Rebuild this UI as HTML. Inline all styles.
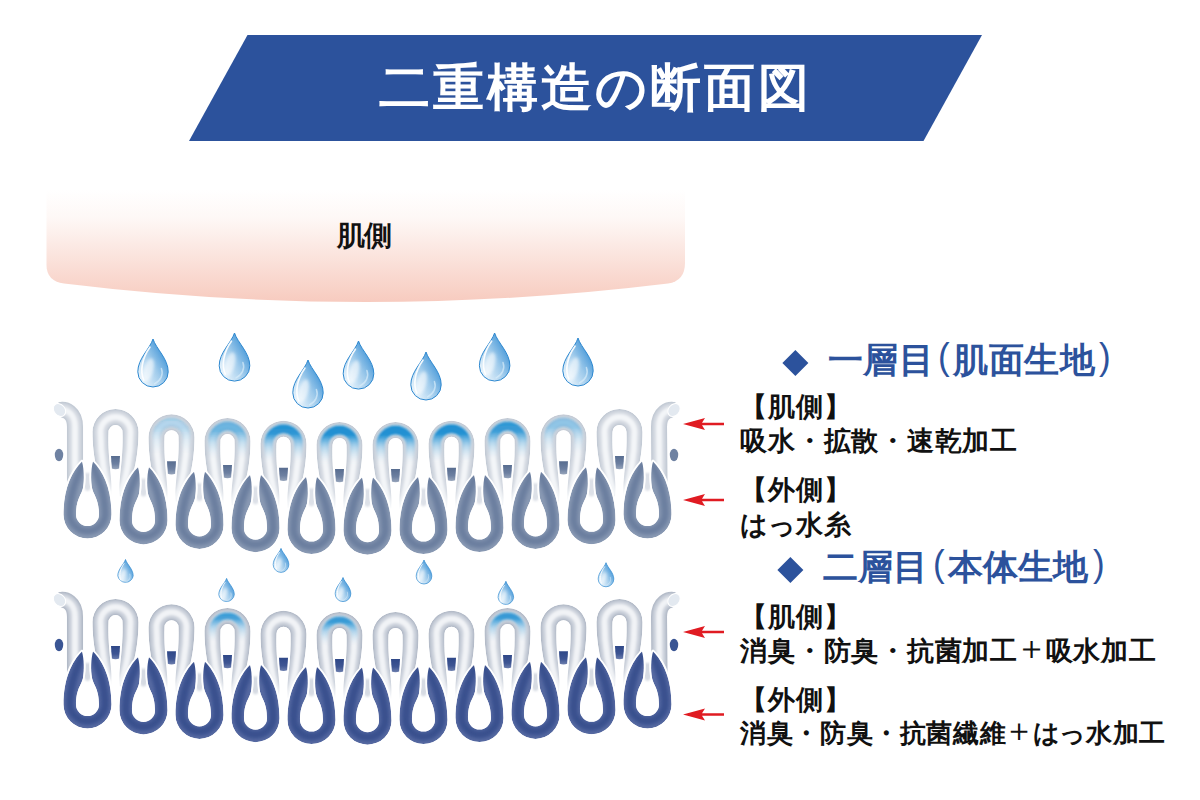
<!DOCTYPE html>
<html lang="ja"><head><meta charset="utf-8"><title>二重構造の断面図</title>
<style>
html,body{margin:0;padding:0;background:#fff;}
body{width:1200px;height:800px;position:relative;overflow:hidden;font-family:"Liberation Sans",sans-serif;}
.t{position:absolute;white-space:nowrap;line-height:1;}
.t span{display:inline-block;text-align:center;}
.title{left:377.5px;top:61.5px;font-size:51px;font-weight:bold;color:#fff;}
.skin{left:336.5px;top:221.5px;font-size:28px;font-weight:bold;color:#111;}
.h{font-size:35px;font-weight:bold;color:#2c529c;}
.h span{width:35.5px;}
.h.h2 span{width:35px;}
.title span{width:54.1px;}
.skin span{width:27.5px;}
.b span{width:27.75px;}
.b2 span{width:26.6px;}
.b{font-size:27px;color:#111;font-weight:bold;}
.b2{font-size:26px;color:#111;font-weight:bold;}
.h .p{font-weight:normal;transform:translateY(-4px) scaleY(1.05);}
.t span.pl{font-weight:normal;transform:translateY(-2.5px) scale(1.22);}
</style></head><body>
<svg width="1200" height="800" viewBox="0 0 1200 800" style="position:absolute;left:0;top:0"><defs><linearGradient id="skin" x1="0" y1="0" x2="0" y2="1"><stop offset="0" stop-color="#ffffff"/><stop offset="0.25" stop-color="#fef8f6"/><stop offset="1" stop-color="#f7cbbf"/></linearGradient><linearGradient id="dg" x1="0.15" y1="0.85" x2="0.95" y2="0.15"><stop offset="0" stop-color="#e3f1fb"/><stop offset="0.45" stop-color="#9ecaeb"/><stop offset="1" stop-color="#2b88d2"/></linearGradient><filter id="bl1" filterUnits="userSpaceOnUse" x="0" y="0" width="1200" height="800"><feGaussianBlur stdDeviation="0.7"/></filter><filter id="bl4" filterUnits="userSpaceOnUse" x="0" y="0" width="1200" height="800"><feGaussianBlur stdDeviation="1.3"/></filter><filter id="bl5" filterUnits="userSpaceOnUse" x="0" y="0" width="1200" height="800"><feGaussianBlur stdDeviation="1.3"/></filter><filter id="bl6" filterUnits="userSpaceOnUse" x="0" y="0" width="1200" height="800"><feGaussianBlur stdDeviation="0.45"/></filter><filter id="bl3" filterUnits="userSpaceOnUse" x="0" y="0" width="1200" height="800"><feGaussianBlur stdDeviation="1.8"/></filter><filter id="bl2" x="-50%" y="-50%" width="200%" height="200%"><feGaussianBlur stdDeviation="1.5"/></filter><linearGradient id="blue1_1" gradientUnits="userSpaceOnUse" x1="0" y1="413.2" x2="0" y2="455.2"><stop offset="0" stop-color="#0f87cf" stop-opacity="0.3"/><stop offset="0.33" stop-color="#168bd0" stop-opacity="0.3"/><stop offset="0.6" stop-color="#4aa5dc" stop-opacity="0.135"/><stop offset="1" stop-color="#b9d6ea" stop-opacity="0"/></linearGradient><linearGradient id="blue1_2" gradientUnits="userSpaceOnUse" x1="0" y1="417.1" x2="0" y2="459.1"><stop offset="0" stop-color="#0f87cf" stop-opacity="0.6"/><stop offset="0.33" stop-color="#168bd0" stop-opacity="0.6"/><stop offset="0.6" stop-color="#4aa5dc" stop-opacity="0.27"/><stop offset="1" stop-color="#b9d6ea" stop-opacity="0"/></linearGradient><linearGradient id="blue1_3" gradientUnits="userSpaceOnUse" x1="0" y1="419.7" x2="0" y2="461.7"><stop offset="0" stop-color="#0f87cf" stop-opacity="0.9"/><stop offset="0.33" stop-color="#168bd0" stop-opacity="0.9"/><stop offset="0.6" stop-color="#4aa5dc" stop-opacity="0.405"/><stop offset="1" stop-color="#b9d6ea" stop-opacity="0"/></linearGradient><linearGradient id="blue1_4" gradientUnits="userSpaceOnUse" x1="0" y1="421" x2="0" y2="463"><stop offset="0" stop-color="#0f87cf" stop-opacity="0.95"/><stop offset="0.33" stop-color="#168bd0" stop-opacity="0.95"/><stop offset="0.6" stop-color="#4aa5dc" stop-opacity="0.4275"/><stop offset="1" stop-color="#b9d6ea" stop-opacity="0"/></linearGradient><linearGradient id="blue1_5" gradientUnits="userSpaceOnUse" x1="0" y1="421" x2="0" y2="463"><stop offset="0" stop-color="#0f87cf" stop-opacity="0.95"/><stop offset="0.33" stop-color="#168bd0" stop-opacity="0.95"/><stop offset="0.6" stop-color="#4aa5dc" stop-opacity="0.4275"/><stop offset="1" stop-color="#b9d6ea" stop-opacity="0"/></linearGradient><linearGradient id="blue1_6" gradientUnits="userSpaceOnUse" x1="0" y1="419.7" x2="0" y2="461.7"><stop offset="0" stop-color="#0f87cf" stop-opacity="0.95"/><stop offset="0.33" stop-color="#168bd0" stop-opacity="0.95"/><stop offset="0.6" stop-color="#4aa5dc" stop-opacity="0.4275"/><stop offset="1" stop-color="#b9d6ea" stop-opacity="0"/></linearGradient><linearGradient id="blue1_7" gradientUnits="userSpaceOnUse" x1="0" y1="417.1" x2="0" y2="459.1"><stop offset="0" stop-color="#0f87cf" stop-opacity="0.85"/><stop offset="0.33" stop-color="#168bd0" stop-opacity="0.85"/><stop offset="0.6" stop-color="#4aa5dc" stop-opacity="0.3825"/><stop offset="1" stop-color="#b9d6ea" stop-opacity="0"/></linearGradient><linearGradient id="blue1_8" gradientUnits="userSpaceOnUse" x1="0" y1="413.2" x2="0" y2="455.2"><stop offset="0" stop-color="#0f87cf" stop-opacity="0.45"/><stop offset="0.33" stop-color="#168bd0" stop-opacity="0.45"/><stop offset="0.6" stop-color="#4aa5dc" stop-opacity="0.2025"/><stop offset="1" stop-color="#b9d6ea" stop-opacity="0"/></linearGradient><linearGradient id="blue2_2" gradientUnits="userSpaceOnUse" x1="0" y1="607.1" x2="0" y2="641.1"><stop offset="0" stop-color="#0f87cf" stop-opacity="0.8"/><stop offset="0.33" stop-color="#168bd0" stop-opacity="0.8"/><stop offset="0.6" stop-color="#4aa5dc" stop-opacity="0.36000000000000004"/><stop offset="1" stop-color="#b9d6ea" stop-opacity="0"/></linearGradient><linearGradient id="blue2_4" gradientUnits="userSpaceOnUse" x1="0" y1="611" x2="0" y2="645"><stop offset="0" stop-color="#0f87cf" stop-opacity="0.85"/><stop offset="0.33" stop-color="#168bd0" stop-opacity="0.85"/><stop offset="0.6" stop-color="#4aa5dc" stop-opacity="0.3825"/><stop offset="1" stop-color="#b9d6ea" stop-opacity="0"/></linearGradient><linearGradient id="blue2_7" gradientUnits="userSpaceOnUse" x1="0" y1="607.1" x2="0" y2="641.1"><stop offset="0" stop-color="#0f87cf" stop-opacity="0.85"/><stop offset="0.33" stop-color="#168bd0" stop-opacity="0.85"/><stop offset="0.6" stop-color="#4aa5dc" stop-opacity="0.3825"/><stop offset="1" stop-color="#b9d6ea" stop-opacity="0"/></linearGradient><linearGradient id="bar1" x1="0" y1="0" x2="0" y2="1"><stop offset="0" stop-color="#586d90"/><stop offset="0.6" stop-color="#6d80a1"/><stop offset="1" stop-color="#97a5bb"/></linearGradient><linearGradient id="bar2" x1="0" y1="0" x2="0" y2="1"><stop offset="0" stop-color="#2f4888"/><stop offset="0.6" stop-color="#3e5593"/><stop offset="1" stop-color="#6d7fae"/></linearGradient></defs><polygon points="247.5,35 982,35 923.5,141 189,141" fill="#2c529c"/><path d="M46.5,190 L685,190 L685,263 Q685,281 668,283.5 Q366,320.5 64,283.5 Q46.5,281 46.5,265 Z" fill="url(#skin)"/><path d="M153,339 C156.1,348.8 168.2,358.6 168.2,371.8 A15.2,15.2 0 0 1 137.8,371.8 C137.8,358.6 149.9,348.8 153,339 Z" fill="url(#dg)" stroke="#2d88d0" stroke-width="1"/><path d="M149.9,347.2 C141.6,358.6 140,371.8 143.8,380.1" fill="none" stroke="#ffffff" stroke-width="1.7" opacity="0.9" stroke-linecap="round"/><ellipse cx="148.4" cy="370.2" rx="4.9" ry="12.2" fill="#ffffff" opacity="0.6" transform="rotate(15 148.4 370.2)" filter="url(#bl2)"/><path d="M161.4,368.5 C163.7,374.8 160.6,380.9 154.5,383.9" fill="none" stroke="#d8ecfa" stroke-width="1.5" opacity="0.7" stroke-linecap="round"/><path d="M234.5,333 C237.6,342.8 249.8,352.6 249.8,365.8 A15.2,15.2 0 0 1 219.2,365.8 C219.2,352.6 231.4,342.8 234.5,333 Z" fill="url(#dg)" stroke="#2d88d0" stroke-width="1"/><path d="M231.4,341.2 C223.1,352.6 221.5,365.8 225.3,374.1" fill="none" stroke="#ffffff" stroke-width="1.7" opacity="0.9" stroke-linecap="round"/><ellipse cx="229.9" cy="364.2" rx="4.9" ry="12.2" fill="#ffffff" opacity="0.6" transform="rotate(15 229.9 364.2)" filter="url(#bl2)"/><path d="M242.9,362.5 C245.2,368.8 242.1,374.9 236,377.9" fill="none" stroke="#d8ecfa" stroke-width="1.5" opacity="0.7" stroke-linecap="round"/><path d="M308,360 C311.1,369.8 323.2,379.6 323.2,392.8 A15.2,15.2 0 0 1 292.8,392.8 C292.8,379.6 304.9,369.8 308,360 Z" fill="url(#dg)" stroke="#2d88d0" stroke-width="1"/><path d="M304.9,368.2 C296.6,379.6 295,392.8 298.9,401.1" fill="none" stroke="#ffffff" stroke-width="1.7" opacity="0.9" stroke-linecap="round"/><ellipse cx="303.4" cy="391.2" rx="4.9" ry="12.2" fill="#ffffff" opacity="0.6" transform="rotate(15 303.4 391.2)" filter="url(#bl2)"/><path d="M316.4,389.5 C318.7,395.8 315.6,401.9 309.5,404.9" fill="none" stroke="#d8ecfa" stroke-width="1.5" opacity="0.7" stroke-linecap="round"/><path d="M358.5,341 C361.6,350.8 373.8,360.6 373.8,373.8 A15.2,15.2 0 0 1 343.2,373.8 C343.2,360.6 355.4,350.8 358.5,341 Z" fill="url(#dg)" stroke="#2d88d0" stroke-width="1"/><path d="M355.4,349.2 C347.1,360.6 345.5,373.8 349.4,382.1" fill="none" stroke="#ffffff" stroke-width="1.7" opacity="0.9" stroke-linecap="round"/><ellipse cx="353.9" cy="372.2" rx="4.9" ry="12.2" fill="#ffffff" opacity="0.6" transform="rotate(15 353.9 372.2)" filter="url(#bl2)"/><path d="M366.9,370.5 C369.2,376.8 366.1,382.9 360,385.9" fill="none" stroke="#d8ecfa" stroke-width="1.5" opacity="0.7" stroke-linecap="round"/><path d="M426,352 C429.1,361.8 441.2,371.6 441.2,384.8 A15.2,15.2 0 0 1 410.8,384.8 C410.8,371.6 422.9,361.8 426,352 Z" fill="url(#dg)" stroke="#2d88d0" stroke-width="1"/><path d="M422.9,360.2 C414.6,371.6 413,384.8 416.9,393.1" fill="none" stroke="#ffffff" stroke-width="1.7" opacity="0.9" stroke-linecap="round"/><ellipse cx="421.4" cy="383.2" rx="4.9" ry="12.2" fill="#ffffff" opacity="0.6" transform="rotate(15 421.4 383.2)" filter="url(#bl2)"/><path d="M434.4,381.5 C436.7,387.8 433.6,393.9 427.5,396.9" fill="none" stroke="#d8ecfa" stroke-width="1.5" opacity="0.7" stroke-linecap="round"/><path d="M494.6,333 C497.7,342.8 509.9,352.6 509.9,365.8 A15.2,15.2 0 0 1 479.4,365.8 C479.4,352.6 491.6,342.8 494.6,333 Z" fill="url(#dg)" stroke="#2d88d0" stroke-width="1"/><path d="M491.6,341.2 C483.2,352.6 481.6,365.8 485.5,374.1" fill="none" stroke="#ffffff" stroke-width="1.7" opacity="0.9" stroke-linecap="round"/><ellipse cx="490" cy="364.2" rx="4.9" ry="12.2" fill="#ffffff" opacity="0.6" transform="rotate(15 490 364.2)" filter="url(#bl2)"/><path d="M503,362.5 C505.3,368.8 502.2,374.9 496.1,377.9" fill="none" stroke="#d8ecfa" stroke-width="1.5" opacity="0.7" stroke-linecap="round"/><path d="M578,338 C581,347.8 593.2,357.6 593.2,370.8 A15.2,15.2 0 0 1 562.8,370.8 C562.8,357.6 575,347.8 578,338 Z" fill="url(#dg)" stroke="#2d88d0" stroke-width="1"/><path d="M575,346.2 C566.6,357.6 565,370.8 568.9,379.1" fill="none" stroke="#ffffff" stroke-width="1.7" opacity="0.9" stroke-linecap="round"/><ellipse cx="573.4" cy="369.2" rx="4.9" ry="12.2" fill="#ffffff" opacity="0.6" transform="rotate(15 573.4 369.2)" filter="url(#bl2)"/><path d="M586.4,367.5 C588.7,373.8 585.6,379.9 579.5,382.9" fill="none" stroke="#d8ecfa" stroke-width="1.5" opacity="0.7" stroke-linecap="round"/><path d="M111,456.1 L120,456.1 L119.3,468.6 Q115.5,470.1 111.7,468.6 Z" fill="url(#bar1)"/><path d="M167,461.2 L176,461.2 L175.3,473.7 Q171.5,475.2 167.7,473.7 Z" fill="url(#bar1)"/><path d="M223,465.1 L232,465.1 L231.3,477.6 Q227.5,479.1 223.7,477.6 Z" fill="url(#bar1)"/><path d="M279,467.7 L288,467.7 L287.3,480.2 Q283.5,481.7 279.7,480.2 Z" fill="url(#bar1)"/><path d="M335,469 L344,469 L343.3,481.5 Q339.5,483 335.7,481.5 Z" fill="url(#bar1)"/><path d="M391,469 L400,469 L399.3,481.5 Q395.5,483 391.7,481.5 Z" fill="url(#bar1)"/><path d="M447,467.7 L456,467.7 L455.3,480.2 Q451.5,481.7 447.7,480.2 Z" fill="url(#bar1)"/><path d="M503,465.1 L512,465.1 L511.3,477.6 Q507.5,479.1 503.7,477.6 Z" fill="url(#bar1)"/><path d="M559,461.2 L568,461.2 L567.3,473.7 Q563.5,475.2 559.7,473.7 Z" fill="url(#bar1)"/><path d="M615,455.9 L624,455.9 L623.3,468.4 Q619.5,469.9 615.7,468.4 Z" fill="url(#bar1)"/><ellipse cx="59" cy="455" rx="4.2" ry="6.2" fill="#6f82a2"/><ellipse cx="674" cy="455" rx="4.2" ry="6.2" fill="#6f82a2"/><g><path d="M111,497.1 C97,484.1 92.5,454.1 92.5,432.1 A23,23 0 0 1 138.5,432.1 C138.5,454.1 134,484.1 120,497.1 C118,478.1 123.5,462.1 122.5,432.1 A7,7 0 0 0 108.5,432.1 C107.5,462.1 113,478.1 111,497.1 Z" fill="#fff" stroke="#fff" stroke-width="3" fill-rule="evenodd"/><path d="M167,502.2 C153,489.2 148.5,459.2 148.5,437.2 A23,23 0 0 1 194.5,437.2 C194.5,459.2 190,489.2 176,502.2 C174,483.2 179.5,467.2 178.5,437.2 A7,7 0 0 0 164.5,437.2 C163.5,467.2 169,483.2 167,502.2 Z" fill="#fff" stroke="#fff" stroke-width="3" fill-rule="evenodd"/><path d="M223,506.1 C209,493.1 204.5,463.1 204.5,441.1 A23,23 0 0 1 250.5,441.1 C250.5,463.1 246,493.1 232,506.1 C230,487.1 235.5,471.1 234.5,441.1 A7,7 0 0 0 220.5,441.1 C219.5,471.1 225,487.1 223,506.1 Z" fill="#fff" stroke="#fff" stroke-width="3" fill-rule="evenodd"/><path d="M279,508.7 C265,495.7 260.5,465.7 260.5,443.7 A23,23 0 0 1 306.5,443.7 C306.5,465.7 302,495.7 288,508.7 C286,489.7 291.5,473.7 290.5,443.7 A7,7 0 0 0 276.5,443.7 C275.5,473.7 281,489.7 279,508.7 Z" fill="#fff" stroke="#fff" stroke-width="3" fill-rule="evenodd"/><path d="M335,510 C321,497 316.5,467 316.5,445 A23,23 0 0 1 362.5,445 C362.5,467 358,497 344,510 C342,491 347.5,475 346.5,445 A7,7 0 0 0 332.5,445 C331.5,475 337,491 335,510 Z" fill="#fff" stroke="#fff" stroke-width="3" fill-rule="evenodd"/><path d="M391,510 C377,497 372.5,467 372.5,445 A23,23 0 0 1 418.5,445 C418.5,467 414,497 400,510 C398,491 403.5,475 402.5,445 A7,7 0 0 0 388.5,445 C387.5,475 393,491 391,510 Z" fill="#fff" stroke="#fff" stroke-width="3" fill-rule="evenodd"/><path d="M447,508.7 C433,495.7 428.5,465.7 428.5,443.7 A23,23 0 0 1 474.5,443.7 C474.5,465.7 470,495.7 456,508.7 C454,489.7 459.5,473.7 458.5,443.7 A7,7 0 0 0 444.5,443.7 C443.5,473.7 449,489.7 447,508.7 Z" fill="#fff" stroke="#fff" stroke-width="3" fill-rule="evenodd"/><path d="M503,506.1 C489,493.1 484.5,463.1 484.5,441.1 A23,23 0 0 1 530.5,441.1 C530.5,463.1 526,493.1 512,506.1 C510,487.1 515.5,471.1 514.5,441.1 A7,7 0 0 0 500.5,441.1 C499.5,471.1 505,487.1 503,506.1 Z" fill="#fff" stroke="#fff" stroke-width="3" fill-rule="evenodd"/><path d="M559,502.2 C545,489.2 540.5,459.2 540.5,437.2 A23,23 0 0 1 586.5,437.2 C586.5,459.2 582,489.2 568,502.2 C566,483.2 571.5,467.2 570.5,437.2 A7,7 0 0 0 556.5,437.2 C555.5,467.2 561,483.2 559,502.2 Z" fill="#fff" stroke="#fff" stroke-width="3" fill-rule="evenodd"/><path d="M615,496.9 C601,483.9 596.5,453.9 596.5,431.9 A23,23 0 0 1 642.5,431.9 C642.5,453.9 638,483.9 624,496.9 C622,477.9 627.5,461.9 626.5,431.9 A7,7 0 0 0 612.5,431.9 C611.5,461.9 617,477.9 615,496.9 Z" fill="#fff" stroke="#fff" stroke-width="3" fill-rule="evenodd"/><path d="M60,410 C65,409 75,412 75,427 L75,484" fill="none" stroke="#fff" stroke-width="18.5"/><path d="M674,410 C669,409 659,412 659,427 L659.5,484" fill="none" stroke="#fff" stroke-width="18.5"/></g><mask id="lm1" maskUnits="userSpaceOnUse" x="0" y="0" width="1200" height="800"><path d="M111,497.1 C97,484.1 92.5,454.1 92.5,432.1 A23,23 0 0 1 138.5,432.1 C138.5,454.1 134,484.1 120,497.1 C118,478.1 123.5,462.1 122.5,432.1 A7,7 0 0 0 108.5,432.1 C107.5,462.1 113,478.1 111,497.1 Z" fill="#fff" fill-rule="evenodd"/><path d="M167,502.2 C153,489.2 148.5,459.2 148.5,437.2 A23,23 0 0 1 194.5,437.2 C194.5,459.2 190,489.2 176,502.2 C174,483.2 179.5,467.2 178.5,437.2 A7,7 0 0 0 164.5,437.2 C163.5,467.2 169,483.2 167,502.2 Z" fill="#fff" fill-rule="evenodd"/><path d="M223,506.1 C209,493.1 204.5,463.1 204.5,441.1 A23,23 0 0 1 250.5,441.1 C250.5,463.1 246,493.1 232,506.1 C230,487.1 235.5,471.1 234.5,441.1 A7,7 0 0 0 220.5,441.1 C219.5,471.1 225,487.1 223,506.1 Z" fill="#fff" fill-rule="evenodd"/><path d="M279,508.7 C265,495.7 260.5,465.7 260.5,443.7 A23,23 0 0 1 306.5,443.7 C306.5,465.7 302,495.7 288,508.7 C286,489.7 291.5,473.7 290.5,443.7 A7,7 0 0 0 276.5,443.7 C275.5,473.7 281,489.7 279,508.7 Z" fill="#fff" fill-rule="evenodd"/><path d="M335,510 C321,497 316.5,467 316.5,445 A23,23 0 0 1 362.5,445 C362.5,467 358,497 344,510 C342,491 347.5,475 346.5,445 A7,7 0 0 0 332.5,445 C331.5,475 337,491 335,510 Z" fill="#fff" fill-rule="evenodd"/><path d="M391,510 C377,497 372.5,467 372.5,445 A23,23 0 0 1 418.5,445 C418.5,467 414,497 400,510 C398,491 403.5,475 402.5,445 A7,7 0 0 0 388.5,445 C387.5,475 393,491 391,510 Z" fill="#fff" fill-rule="evenodd"/><path d="M447,508.7 C433,495.7 428.5,465.7 428.5,443.7 A23,23 0 0 1 474.5,443.7 C474.5,465.7 470,495.7 456,508.7 C454,489.7 459.5,473.7 458.5,443.7 A7,7 0 0 0 444.5,443.7 C443.5,473.7 449,489.7 447,508.7 Z" fill="#fff" fill-rule="evenodd"/><path d="M503,506.1 C489,493.1 484.5,463.1 484.5,441.1 A23,23 0 0 1 530.5,441.1 C530.5,463.1 526,493.1 512,506.1 C510,487.1 515.5,471.1 514.5,441.1 A7,7 0 0 0 500.5,441.1 C499.5,471.1 505,487.1 503,506.1 Z" fill="#fff" fill-rule="evenodd"/><path d="M559,502.2 C545,489.2 540.5,459.2 540.5,437.2 A23,23 0 0 1 586.5,437.2 C586.5,459.2 582,489.2 568,502.2 C566,483.2 571.5,467.2 570.5,437.2 A7,7 0 0 0 556.5,437.2 C555.5,467.2 561,483.2 559,502.2 Z" fill="#fff" fill-rule="evenodd"/><path d="M615,496.9 C601,483.9 596.5,453.9 596.5,431.9 A23,23 0 0 1 642.5,431.9 C642.5,453.9 638,483.9 624,496.9 C622,477.9 627.5,461.9 626.5,431.9 A7,7 0 0 0 612.5,431.9 C611.5,461.9 617,477.9 615,496.9 Z" fill="#fff" fill-rule="evenodd"/></mask><g mask="url(#lm1)"><g filter="url(#bl6)"><path d="M111,497.1 C97,484.1 92.5,454.1 92.5,432.1 A23,23 0 0 1 138.5,432.1 C138.5,454.1 134,484.1 120,497.1 C118,478.1 123.5,462.1 122.5,432.1 A7,7 0 0 0 108.5,432.1 C107.5,462.1 113,478.1 111,497.1 Z" fill="#bec6d1" fill-rule="evenodd"/><path d="M167,502.2 C153,489.2 148.5,459.2 148.5,437.2 A23,23 0 0 1 194.5,437.2 C194.5,459.2 190,489.2 176,502.2 C174,483.2 179.5,467.2 178.5,437.2 A7,7 0 0 0 164.5,437.2 C163.5,467.2 169,483.2 167,502.2 Z" fill="#bec6d1" fill-rule="evenodd"/><path d="M223,506.1 C209,493.1 204.5,463.1 204.5,441.1 A23,23 0 0 1 250.5,441.1 C250.5,463.1 246,493.1 232,506.1 C230,487.1 235.5,471.1 234.5,441.1 A7,7 0 0 0 220.5,441.1 C219.5,471.1 225,487.1 223,506.1 Z" fill="#bec6d1" fill-rule="evenodd"/><path d="M279,508.7 C265,495.7 260.5,465.7 260.5,443.7 A23,23 0 0 1 306.5,443.7 C306.5,465.7 302,495.7 288,508.7 C286,489.7 291.5,473.7 290.5,443.7 A7,7 0 0 0 276.5,443.7 C275.5,473.7 281,489.7 279,508.7 Z" fill="#bec6d1" fill-rule="evenodd"/><path d="M335,510 C321,497 316.5,467 316.5,445 A23,23 0 0 1 362.5,445 C362.5,467 358,497 344,510 C342,491 347.5,475 346.5,445 A7,7 0 0 0 332.5,445 C331.5,475 337,491 335,510 Z" fill="#bec6d1" fill-rule="evenodd"/><path d="M391,510 C377,497 372.5,467 372.5,445 A23,23 0 0 1 418.5,445 C418.5,467 414,497 400,510 C398,491 403.5,475 402.5,445 A7,7 0 0 0 388.5,445 C387.5,475 393,491 391,510 Z" fill="#bec6d1" fill-rule="evenodd"/><path d="M447,508.7 C433,495.7 428.5,465.7 428.5,443.7 A23,23 0 0 1 474.5,443.7 C474.5,465.7 470,495.7 456,508.7 C454,489.7 459.5,473.7 458.5,443.7 A7,7 0 0 0 444.5,443.7 C443.5,473.7 449,489.7 447,508.7 Z" fill="#bec6d1" fill-rule="evenodd"/><path d="M503,506.1 C489,493.1 484.5,463.1 484.5,441.1 A23,23 0 0 1 530.5,441.1 C530.5,463.1 526,493.1 512,506.1 C510,487.1 515.5,471.1 514.5,441.1 A7,7 0 0 0 500.5,441.1 C499.5,471.1 505,487.1 503,506.1 Z" fill="#bec6d1" fill-rule="evenodd"/><path d="M559,502.2 C545,489.2 540.5,459.2 540.5,437.2 A23,23 0 0 1 586.5,437.2 C586.5,459.2 582,489.2 568,502.2 C566,483.2 571.5,467.2 570.5,437.2 A7,7 0 0 0 556.5,437.2 C555.5,467.2 561,483.2 559,502.2 Z" fill="#bec6d1" fill-rule="evenodd"/><path d="M615,496.9 C601,483.9 596.5,453.9 596.5,431.9 A23,23 0 0 1 642.5,431.9 C642.5,453.9 638,483.9 624,496.9 C622,477.9 627.5,461.9 626.5,431.9 A7,7 0 0 0 612.5,431.9 C611.5,461.9 617,477.9 615,496.9 Z" fill="#bec6d1" fill-rule="evenodd"/></g><g fill="none" filter="url(#bl4)"><path d="M111.5,496.1 C104.5,480.1 100.5,455.1 100.5,432.1 A15,15 0 0 1 130.5,432.1 C130.5,455.1 126.5,480.1 119.5,496.1" stroke="#d5dae2" stroke-width="13"/><path d="M167.5,501.2 C160.5,485.2 156.5,460.2 156.5,437.2 A15,15 0 0 1 186.5,437.2 C186.5,460.2 182.5,485.2 175.5,501.2" stroke="#d5dae2" stroke-width="13"/><path d="M223.5,505.1 C216.5,489.1 212.5,464.1 212.5,441.1 A15,15 0 0 1 242.5,441.1 C242.5,464.1 238.5,489.1 231.5,505.1" stroke="#d5dae2" stroke-width="13"/><path d="M279.5,507.7 C272.5,491.7 268.5,466.7 268.5,443.7 A15,15 0 0 1 298.5,443.7 C298.5,466.7 294.5,491.7 287.5,507.7" stroke="#d5dae2" stroke-width="13"/><path d="M335.5,509 C328.5,493 324.5,468 324.5,445 A15,15 0 0 1 354.5,445 C354.5,468 350.5,493 343.5,509" stroke="#d5dae2" stroke-width="13"/><path d="M391.5,509 C384.5,493 380.5,468 380.5,445 A15,15 0 0 1 410.5,445 C410.5,468 406.5,493 399.5,509" stroke="#d5dae2" stroke-width="13"/><path d="M447.5,507.7 C440.5,491.7 436.5,466.7 436.5,443.7 A15,15 0 0 1 466.5,443.7 C466.5,466.7 462.5,491.7 455.5,507.7" stroke="#d5dae2" stroke-width="13"/><path d="M503.5,505.1 C496.5,489.1 492.5,464.1 492.5,441.1 A15,15 0 0 1 522.5,441.1 C522.5,464.1 518.5,489.1 511.5,505.1" stroke="#d5dae2" stroke-width="13"/><path d="M559.5,501.2 C552.5,485.2 548.5,460.2 548.5,437.2 A15,15 0 0 1 578.5,437.2 C578.5,460.2 574.5,485.2 567.5,501.2" stroke="#d5dae2" stroke-width="13"/><path d="M615.5,495.9 C608.5,479.9 604.5,454.9 604.5,431.9 A15,15 0 0 1 634.5,431.9 C634.5,454.9 630.5,479.9 623.5,495.9" stroke="#d5dae2" stroke-width="13"/><path d="M111.5,496.1 C104.5,480.1 100.5,455.1 100.5,432.1 A15,15 0 0 1 130.5,432.1 C130.5,455.1 126.5,480.1 119.5,496.1" stroke="#f3f5f8" stroke-width="6"/><path d="M167.5,501.2 C160.5,485.2 156.5,460.2 156.5,437.2 A15,15 0 0 1 186.5,437.2 C186.5,460.2 182.5,485.2 175.5,501.2" stroke="#f3f5f8" stroke-width="6"/><path d="M223.5,505.1 C216.5,489.1 212.5,464.1 212.5,441.1 A15,15 0 0 1 242.5,441.1 C242.5,464.1 238.5,489.1 231.5,505.1" stroke="#f3f5f8" stroke-width="6"/><path d="M279.5,507.7 C272.5,491.7 268.5,466.7 268.5,443.7 A15,15 0 0 1 298.5,443.7 C298.5,466.7 294.5,491.7 287.5,507.7" stroke="#f3f5f8" stroke-width="6"/><path d="M335.5,509 C328.5,493 324.5,468 324.5,445 A15,15 0 0 1 354.5,445 C354.5,468 350.5,493 343.5,509" stroke="#f3f5f8" stroke-width="6"/><path d="M391.5,509 C384.5,493 380.5,468 380.5,445 A15,15 0 0 1 410.5,445 C410.5,468 406.5,493 399.5,509" stroke="#f3f5f8" stroke-width="6"/><path d="M447.5,507.7 C440.5,491.7 436.5,466.7 436.5,443.7 A15,15 0 0 1 466.5,443.7 C466.5,466.7 462.5,491.7 455.5,507.7" stroke="#f3f5f8" stroke-width="6"/><path d="M503.5,505.1 C496.5,489.1 492.5,464.1 492.5,441.1 A15,15 0 0 1 522.5,441.1 C522.5,464.1 518.5,489.1 511.5,505.1" stroke="#f3f5f8" stroke-width="6"/><path d="M559.5,501.2 C552.5,485.2 548.5,460.2 548.5,437.2 A15,15 0 0 1 578.5,437.2 C578.5,460.2 574.5,485.2 567.5,501.2" stroke="#f3f5f8" stroke-width="6"/><path d="M615.5,495.9 C608.5,479.9 604.5,454.9 604.5,431.9 A15,15 0 0 1 634.5,431.9 C634.5,454.9 630.5,479.9 623.5,495.9" stroke="#f3f5f8" stroke-width="6"/></g><g filter="url(#bl5)"><path d="M167.5,501.2 C160.5,485.2 156.5,460.2 156.5,437.2 A15,15 0 0 1 186.5,437.2 C186.5,460.2 182.5,485.2 175.5,501.2" stroke="url(#blue1_1)" stroke-width="9" fill="none"/><path d="M223.5,505.1 C216.5,489.1 212.5,464.1 212.5,441.1 A15,15 0 0 1 242.5,441.1 C242.5,464.1 238.5,489.1 231.5,505.1" stroke="url(#blue1_2)" stroke-width="9" fill="none"/><path d="M279.5,507.7 C272.5,491.7 268.5,466.7 268.5,443.7 A15,15 0 0 1 298.5,443.7 C298.5,466.7 294.5,491.7 287.5,507.7" stroke="url(#blue1_3)" stroke-width="9" fill="none"/><path d="M335.5,509 C328.5,493 324.5,468 324.5,445 A15,15 0 0 1 354.5,445 C354.5,468 350.5,493 343.5,509" stroke="url(#blue1_4)" stroke-width="9" fill="none"/><path d="M391.5,509 C384.5,493 380.5,468 380.5,445 A15,15 0 0 1 410.5,445 C410.5,468 406.5,493 399.5,509" stroke="url(#blue1_5)" stroke-width="9" fill="none"/><path d="M447.5,507.7 C440.5,491.7 436.5,466.7 436.5,443.7 A15,15 0 0 1 466.5,443.7 C466.5,466.7 462.5,491.7 455.5,507.7" stroke="url(#blue1_6)" stroke-width="9" fill="none"/><path d="M503.5,505.1 C496.5,489.1 492.5,464.1 492.5,441.1 A15,15 0 0 1 522.5,441.1 C522.5,464.1 518.5,489.1 511.5,505.1" stroke="url(#blue1_7)" stroke-width="9" fill="none"/><path d="M559.5,501.2 C552.5,485.2 548.5,460.2 548.5,437.2 A15,15 0 0 1 578.5,437.2 C578.5,460.2 574.5,485.2 567.5,501.2" stroke="url(#blue1_8)" stroke-width="9" fill="none"/></g></g><g fill="none" filter="url(#bl6)"><path d="M60,410 C65,409 75,412 75,427 L75,484" stroke="#bec6d1" stroke-width="16"/><path d="M674,410 C669,409 659,412 659,427 L659.5,484" stroke="#bec6d1" stroke-width="16"/></g><g fill="none" filter="url(#bl4)"><path d="M60,410 C65,409 75,412 75,427 L75,484" stroke="#d5dae2" stroke-width="13"/><path d="M674,410 C669,409 659,412 659,427 L659.5,484" stroke="#d5dae2" stroke-width="13"/><path d="M60,410 C65,409 75,412 75,427 L75,484" stroke="#f3f5f8" stroke-width="6"/><path d="M674,410 C669,409 659,412 659,427 L659.5,484" stroke="#f3f5f8" stroke-width="6"/></g><ellipse cx="59.5" cy="410" rx="5.5" ry="7" fill="#e3e9f0" stroke="#ffffff" stroke-width="1" transform="rotate(-40 59.5 410)"/><ellipse cx="674" cy="410" rx="5.5" ry="7" fill="#e3e9f0" stroke="#ffffff" stroke-width="1" transform="rotate(40 674 410)"/><g filter="url(#bl4)"><path d="M82.5,473 L92.5,473 L91.5,487 Q87.5,495 83.5,487 Z" fill="#d5dae2" opacity="0.8"/><path d="M138.5,478.8 L148.5,478.8 L147.5,492.8 Q143.5,500.8 139.5,492.8 Z" fill="#d5dae2" opacity="0.8"/><path d="M194.5,483.3 L204.5,483.3 L203.5,497.3 Q199.5,505.3 195.5,497.3 Z" fill="#d5dae2" opacity="0.8"/><path d="M250.5,486.6 L260.5,486.6 L259.5,500.6 Q255.5,508.6 251.5,500.6 Z" fill="#d5dae2" opacity="0.8"/><path d="M306.5,488.5 L316.5,488.5 L315.5,502.5 Q311.5,510.5 307.5,502.5 Z" fill="#d5dae2" opacity="0.8"/><path d="M362.5,489.1 L372.5,489.1 L371.5,503.1 Q367.5,511.1 363.5,503.1 Z" fill="#d5dae2" opacity="0.8"/><path d="M418.5,488.5 L428.5,488.5 L427.5,502.5 Q423.5,510.5 419.5,502.5 Z" fill="#d5dae2" opacity="0.8"/><path d="M474.5,486.5 L484.5,486.5 L483.5,500.5 Q479.5,508.5 475.5,500.5 Z" fill="#d5dae2" opacity="0.8"/><path d="M530.5,483.3 L540.5,483.3 L539.5,497.3 Q535.5,505.3 531.5,497.3 Z" fill="#d5dae2" opacity="0.8"/><path d="M586.5,478.7 L596.5,478.7 L595.5,492.7 Q591.5,500.7 587.5,492.7 Z" fill="#d5dae2" opacity="0.8"/><path d="M642.5,472.9 L652.5,472.9 L651.5,486.9 Q647.5,494.9 643.5,486.9 Z" fill="#d5dae2" opacity="0.8"/></g><mask id="rm1" maskUnits="userSpaceOnUse" x="0" y="0" width="1200" height="800"><path d="M82,461.5 C71.5,472 63.5,489 63.5,514.6 A24,24 0 0 0 111.5,514.6 C111.5,489 103.5,472 93,461.5 C91,469 90.5,480 92,488 C93.5,495 99,499 99,514.6 A11.5,11.5 0 0 1 76,514.6 C76,499 81.5,495 83,488 C84.5,480 84,469 82,461.5 Z" fill="#fff"/><path d="M138,467.3 C127.5,477.8 119.5,494.8 119.5,520.4 A24,24 0 0 0 167.5,520.4 C167.5,494.8 159.5,477.8 149,467.3 C147,474.8 146.5,485.8 148,493.8 C149.5,500.8 155,504.8 155,520.4 A11.5,11.5 0 0 1 132,520.4 C132,504.8 137.5,500.8 139,493.8 C140.5,485.8 140,474.8 138,467.3 Z" fill="#fff"/><path d="M194,471.8 C183.5,482.3 175.5,499.3 175.5,524.9 A24,24 0 0 0 223.5,524.9 C223.5,499.3 215.5,482.3 205,471.8 C203,479.3 202.5,490.3 204,498.3 C205.5,505.3 211,509.3 211,524.9 A11.5,11.5 0 0 1 188,524.9 C188,509.3 193.5,505.3 195,498.3 C196.5,490.3 196,479.3 194,471.8 Z" fill="#fff"/><path d="M250,475.1 C239.5,485.6 231.5,502.6 231.5,528.2 A24,24 0 0 0 279.5,528.2 C279.5,502.6 271.5,485.6 261,475.1 C259,482.6 258.5,493.6 260,501.6 C261.5,508.6 267,512.6 267,528.2 A11.5,11.5 0 0 1 244,528.2 C244,512.6 249.5,508.6 251,501.6 C252.5,493.6 252,482.6 250,475.1 Z" fill="#fff"/><path d="M306,477 C295.5,487.5 287.5,504.5 287.5,530.1 A24,24 0 0 0 335.5,530.1 C335.5,504.5 327.5,487.5 317,477 C315,484.5 314.5,495.5 316,503.5 C317.5,510.5 323,514.5 323,530.1 A11.5,11.5 0 0 1 300,530.1 C300,514.5 305.5,510.5 307,503.5 C308.5,495.5 308,484.5 306,477 Z" fill="#fff"/><path d="M362,477.6 C351.5,488.1 343.5,505.1 343.5,530.7 A24,24 0 0 0 391.5,530.7 C391.5,505.1 383.5,488.1 373,477.6 C371,485.1 370.5,496.1 372,504.1 C373.5,511.1 379,515.1 379,530.7 A11.5,11.5 0 0 1 356,530.7 C356,515.1 361.5,511.1 363,504.1 C364.5,496.1 364,485.1 362,477.6 Z" fill="#fff"/><path d="M418,477 C407.5,487.5 399.5,504.5 399.5,530.1 A24,24 0 0 0 447.5,530.1 C447.5,504.5 439.5,487.5 429,477 C427,484.5 426.5,495.5 428,503.5 C429.5,510.5 435,514.5 435,530.1 A11.5,11.5 0 0 1 412,530.1 C412,514.5 417.5,510.5 419,503.5 C420.5,495.5 420,484.5 418,477 Z" fill="#fff"/><path d="M474,475 C463.5,485.5 455.5,502.5 455.5,528.1 A24,24 0 0 0 503.5,528.1 C503.5,502.5 495.5,485.5 485,475 C483,482.5 482.5,493.5 484,501.5 C485.5,508.5 491,512.5 491,528.1 A11.5,11.5 0 0 1 468,528.1 C468,512.5 473.5,508.5 475,501.5 C476.5,493.5 476,482.5 474,475 Z" fill="#fff"/><path d="M530,471.8 C519.5,482.3 511.5,499.3 511.5,524.9 A24,24 0 0 0 559.5,524.9 C559.5,499.3 551.5,482.3 541,471.8 C539,479.3 538.5,490.3 540,498.3 C541.5,505.3 547,509.3 547,524.9 A11.5,11.5 0 0 1 524,524.9 C524,509.3 529.5,505.3 531,498.3 C532.5,490.3 532,479.3 530,471.8 Z" fill="#fff"/><path d="M586,467.2 C575.5,477.7 567.5,494.7 567.5,520.3 A24,24 0 0 0 615.5,520.3 C615.5,494.7 607.5,477.7 597,467.2 C595,474.7 594.5,485.7 596,493.7 C597.5,500.7 603,504.7 603,520.3 A11.5,11.5 0 0 1 580,520.3 C580,504.7 585.5,500.7 587,493.7 C588.5,485.7 588,474.7 586,467.2 Z" fill="#fff"/><path d="M642,461.4 C631.5,471.9 623.5,488.9 623.5,514.5 A24,24 0 0 0 671.5,514.5 C671.5,488.9 663.5,471.9 653,461.4 C651,468.9 650.5,479.9 652,487.9 C653.5,494.9 659,498.9 659,514.5 A11.5,11.5 0 0 1 636,514.5 C636,498.9 641.5,494.9 643,487.9 C644.5,479.9 644,468.9 642,461.4 Z" fill="#fff"/></mask><g><path d="M82,461.5 C71.5,472 63.5,489 63.5,514.6 A24,24 0 0 0 111.5,514.6 C111.5,489 103.5,472 93,461.5 C91,469 90.5,480 92,488 C93.5,495 99,499 99,514.6 A11.5,11.5 0 0 1 76,514.6 C76,499 81.5,495 83,488 C84.5,480 84,469 82,461.5 Z" fill="#fff" stroke="#fff" stroke-width="3.5" stroke-linejoin="round"/><path d="M138,467.3 C127.5,477.8 119.5,494.8 119.5,520.4 A24,24 0 0 0 167.5,520.4 C167.5,494.8 159.5,477.8 149,467.3 C147,474.8 146.5,485.8 148,493.8 C149.5,500.8 155,504.8 155,520.4 A11.5,11.5 0 0 1 132,520.4 C132,504.8 137.5,500.8 139,493.8 C140.5,485.8 140,474.8 138,467.3 Z" fill="#fff" stroke="#fff" stroke-width="3.5" stroke-linejoin="round"/><path d="M194,471.8 C183.5,482.3 175.5,499.3 175.5,524.9 A24,24 0 0 0 223.5,524.9 C223.5,499.3 215.5,482.3 205,471.8 C203,479.3 202.5,490.3 204,498.3 C205.5,505.3 211,509.3 211,524.9 A11.5,11.5 0 0 1 188,524.9 C188,509.3 193.5,505.3 195,498.3 C196.5,490.3 196,479.3 194,471.8 Z" fill="#fff" stroke="#fff" stroke-width="3.5" stroke-linejoin="round"/><path d="M250,475.1 C239.5,485.6 231.5,502.6 231.5,528.2 A24,24 0 0 0 279.5,528.2 C279.5,502.6 271.5,485.6 261,475.1 C259,482.6 258.5,493.6 260,501.6 C261.5,508.6 267,512.6 267,528.2 A11.5,11.5 0 0 1 244,528.2 C244,512.6 249.5,508.6 251,501.6 C252.5,493.6 252,482.6 250,475.1 Z" fill="#fff" stroke="#fff" stroke-width="3.5" stroke-linejoin="round"/><path d="M306,477 C295.5,487.5 287.5,504.5 287.5,530.1 A24,24 0 0 0 335.5,530.1 C335.5,504.5 327.5,487.5 317,477 C315,484.5 314.5,495.5 316,503.5 C317.5,510.5 323,514.5 323,530.1 A11.5,11.5 0 0 1 300,530.1 C300,514.5 305.5,510.5 307,503.5 C308.5,495.5 308,484.5 306,477 Z" fill="#fff" stroke="#fff" stroke-width="3.5" stroke-linejoin="round"/><path d="M362,477.6 C351.5,488.1 343.5,505.1 343.5,530.7 A24,24 0 0 0 391.5,530.7 C391.5,505.1 383.5,488.1 373,477.6 C371,485.1 370.5,496.1 372,504.1 C373.5,511.1 379,515.1 379,530.7 A11.5,11.5 0 0 1 356,530.7 C356,515.1 361.5,511.1 363,504.1 C364.5,496.1 364,485.1 362,477.6 Z" fill="#fff" stroke="#fff" stroke-width="3.5" stroke-linejoin="round"/><path d="M418,477 C407.5,487.5 399.5,504.5 399.5,530.1 A24,24 0 0 0 447.5,530.1 C447.5,504.5 439.5,487.5 429,477 C427,484.5 426.5,495.5 428,503.5 C429.5,510.5 435,514.5 435,530.1 A11.5,11.5 0 0 1 412,530.1 C412,514.5 417.5,510.5 419,503.5 C420.5,495.5 420,484.5 418,477 Z" fill="#fff" stroke="#fff" stroke-width="3.5" stroke-linejoin="round"/><path d="M474,475 C463.5,485.5 455.5,502.5 455.5,528.1 A24,24 0 0 0 503.5,528.1 C503.5,502.5 495.5,485.5 485,475 C483,482.5 482.5,493.5 484,501.5 C485.5,508.5 491,512.5 491,528.1 A11.5,11.5 0 0 1 468,528.1 C468,512.5 473.5,508.5 475,501.5 C476.5,493.5 476,482.5 474,475 Z" fill="#fff" stroke="#fff" stroke-width="3.5" stroke-linejoin="round"/><path d="M530,471.8 C519.5,482.3 511.5,499.3 511.5,524.9 A24,24 0 0 0 559.5,524.9 C559.5,499.3 551.5,482.3 541,471.8 C539,479.3 538.5,490.3 540,498.3 C541.5,505.3 547,509.3 547,524.9 A11.5,11.5 0 0 1 524,524.9 C524,509.3 529.5,505.3 531,498.3 C532.5,490.3 532,479.3 530,471.8 Z" fill="#fff" stroke="#fff" stroke-width="3.5" stroke-linejoin="round"/><path d="M586,467.2 C575.5,477.7 567.5,494.7 567.5,520.3 A24,24 0 0 0 615.5,520.3 C615.5,494.7 607.5,477.7 597,467.2 C595,474.7 594.5,485.7 596,493.7 C597.5,500.7 603,504.7 603,520.3 A11.5,11.5 0 0 1 580,520.3 C580,504.7 585.5,500.7 587,493.7 C588.5,485.7 588,474.7 586,467.2 Z" fill="#fff" stroke="#fff" stroke-width="3.5" stroke-linejoin="round"/><path d="M642,461.4 C631.5,471.9 623.5,488.9 623.5,514.5 A24,24 0 0 0 671.5,514.5 C671.5,488.9 663.5,471.9 653,461.4 C651,468.9 650.5,479.9 652,487.9 C653.5,494.9 659,498.9 659,514.5 A11.5,11.5 0 0 1 636,514.5 C636,498.9 641.5,494.9 643,487.9 C644.5,479.9 644,468.9 642,461.4 Z" fill="#fff" stroke="#fff" stroke-width="3.5" stroke-linejoin="round"/></g><g mask="url(#rm1)"><path d="M82,461.5 C71.5,472 63.5,489 63.5,514.6 A24,24 0 0 0 111.5,514.6 C111.5,489 103.5,472 93,461.5 C91,469 90.5,480 92,488 C93.5,495 99,499 99,514.6 A11.5,11.5 0 0 1 76,514.6 C76,499 81.5,495 83,488 C84.5,480 84,469 82,461.5 Z" fill="#8999b3"/><path d="M138,467.3 C127.5,477.8 119.5,494.8 119.5,520.4 A24,24 0 0 0 167.5,520.4 C167.5,494.8 159.5,477.8 149,467.3 C147,474.8 146.5,485.8 148,493.8 C149.5,500.8 155,504.8 155,520.4 A11.5,11.5 0 0 1 132,520.4 C132,504.8 137.5,500.8 139,493.8 C140.5,485.8 140,474.8 138,467.3 Z" fill="#8999b3"/><path d="M194,471.8 C183.5,482.3 175.5,499.3 175.5,524.9 A24,24 0 0 0 223.5,524.9 C223.5,499.3 215.5,482.3 205,471.8 C203,479.3 202.5,490.3 204,498.3 C205.5,505.3 211,509.3 211,524.9 A11.5,11.5 0 0 1 188,524.9 C188,509.3 193.5,505.3 195,498.3 C196.5,490.3 196,479.3 194,471.8 Z" fill="#8999b3"/><path d="M250,475.1 C239.5,485.6 231.5,502.6 231.5,528.2 A24,24 0 0 0 279.5,528.2 C279.5,502.6 271.5,485.6 261,475.1 C259,482.6 258.5,493.6 260,501.6 C261.5,508.6 267,512.6 267,528.2 A11.5,11.5 0 0 1 244,528.2 C244,512.6 249.5,508.6 251,501.6 C252.5,493.6 252,482.6 250,475.1 Z" fill="#8999b3"/><path d="M306,477 C295.5,487.5 287.5,504.5 287.5,530.1 A24,24 0 0 0 335.5,530.1 C335.5,504.5 327.5,487.5 317,477 C315,484.5 314.5,495.5 316,503.5 C317.5,510.5 323,514.5 323,530.1 A11.5,11.5 0 0 1 300,530.1 C300,514.5 305.5,510.5 307,503.5 C308.5,495.5 308,484.5 306,477 Z" fill="#8999b3"/><path d="M362,477.6 C351.5,488.1 343.5,505.1 343.5,530.7 A24,24 0 0 0 391.5,530.7 C391.5,505.1 383.5,488.1 373,477.6 C371,485.1 370.5,496.1 372,504.1 C373.5,511.1 379,515.1 379,530.7 A11.5,11.5 0 0 1 356,530.7 C356,515.1 361.5,511.1 363,504.1 C364.5,496.1 364,485.1 362,477.6 Z" fill="#8999b3"/><path d="M418,477 C407.5,487.5 399.5,504.5 399.5,530.1 A24,24 0 0 0 447.5,530.1 C447.5,504.5 439.5,487.5 429,477 C427,484.5 426.5,495.5 428,503.5 C429.5,510.5 435,514.5 435,530.1 A11.5,11.5 0 0 1 412,530.1 C412,514.5 417.5,510.5 419,503.5 C420.5,495.5 420,484.5 418,477 Z" fill="#8999b3"/><path d="M474,475 C463.5,485.5 455.5,502.5 455.5,528.1 A24,24 0 0 0 503.5,528.1 C503.5,502.5 495.5,485.5 485,475 C483,482.5 482.5,493.5 484,501.5 C485.5,508.5 491,512.5 491,528.1 A11.5,11.5 0 0 1 468,528.1 C468,512.5 473.5,508.5 475,501.5 C476.5,493.5 476,482.5 474,475 Z" fill="#8999b3"/><path d="M530,471.8 C519.5,482.3 511.5,499.3 511.5,524.9 A24,24 0 0 0 559.5,524.9 C559.5,499.3 551.5,482.3 541,471.8 C539,479.3 538.5,490.3 540,498.3 C541.5,505.3 547,509.3 547,524.9 A11.5,11.5 0 0 1 524,524.9 C524,509.3 529.5,505.3 531,498.3 C532.5,490.3 532,479.3 530,471.8 Z" fill="#8999b3"/><path d="M586,467.2 C575.5,477.7 567.5,494.7 567.5,520.3 A24,24 0 0 0 615.5,520.3 C615.5,494.7 607.5,477.7 597,467.2 C595,474.7 594.5,485.7 596,493.7 C597.5,500.7 603,504.7 603,520.3 A11.5,11.5 0 0 1 580,520.3 C580,504.7 585.5,500.7 587,493.7 C588.5,485.7 588,474.7 586,467.2 Z" fill="#8999b3"/><path d="M642,461.4 C631.5,471.9 623.5,488.9 623.5,514.5 A24,24 0 0 0 671.5,514.5 C671.5,488.9 663.5,471.9 653,461.4 C651,468.9 650.5,479.9 652,487.9 C653.5,494.9 659,498.9 659,514.5 A11.5,11.5 0 0 1 636,514.5 C636,498.9 641.5,494.9 643,487.9 C644.5,479.9 644,468.9 642,461.4 Z" fill="#8999b3"/><g fill="none" filter="url(#bl3)"><path d="M83.5,462 C79.5,473 69.8,489 69.8,514.6 A17.75,17.75 0 0 0 105.2,514.6 C105.2,489 95.5,473 91.5,462" stroke="#7587a6" stroke-width="9"/><path d="M139.5,467.8 C135.5,478.8 125.8,494.8 125.8,520.4 A17.75,17.75 0 0 0 161.2,520.4 C161.2,494.8 151.5,478.8 147.5,467.8" stroke="#7587a6" stroke-width="9"/><path d="M195.5,472.3 C191.5,483.3 181.8,499.3 181.8,524.9 A17.75,17.75 0 0 0 217.2,524.9 C217.2,499.3 207.5,483.3 203.5,472.3" stroke="#7587a6" stroke-width="9"/><path d="M251.5,475.6 C247.5,486.6 237.8,502.6 237.8,528.2 A17.75,17.75 0 0 0 273.2,528.2 C273.2,502.6 263.5,486.6 259.5,475.6" stroke="#7587a6" stroke-width="9"/><path d="M307.5,477.5 C303.5,488.5 293.8,504.5 293.8,530.1 A17.75,17.75 0 0 0 329.2,530.1 C329.2,504.5 319.5,488.5 315.5,477.5" stroke="#7587a6" stroke-width="9"/><path d="M363.5,478.1 C359.5,489.1 349.8,505.1 349.8,530.7 A17.75,17.75 0 0 0 385.2,530.7 C385.2,505.1 375.5,489.1 371.5,478.1" stroke="#7587a6" stroke-width="9"/><path d="M419.5,477.5 C415.5,488.5 405.8,504.5 405.8,530.1 A17.75,17.75 0 0 0 441.2,530.1 C441.2,504.5 431.5,488.5 427.5,477.5" stroke="#7587a6" stroke-width="9"/><path d="M475.5,475.5 C471.5,486.5 461.8,502.5 461.8,528.1 A17.75,17.75 0 0 0 497.2,528.1 C497.2,502.5 487.5,486.5 483.5,475.5" stroke="#7587a6" stroke-width="9"/><path d="M531.5,472.3 C527.5,483.3 517.8,499.3 517.8,524.9 A17.75,17.75 0 0 0 553.2,524.9 C553.2,499.3 543.5,483.3 539.5,472.3" stroke="#7587a6" stroke-width="9"/><path d="M587.5,467.7 C583.5,478.7 573.8,494.7 573.8,520.3 A17.75,17.75 0 0 0 609.2,520.3 C609.2,494.7 599.5,478.7 595.5,467.7" stroke="#7587a6" stroke-width="9"/><path d="M643.5,461.9 C639.5,472.9 629.8,488.9 629.8,514.5 A17.75,17.75 0 0 0 665.2,514.5 C665.2,488.9 655.5,472.9 651.5,461.9" stroke="#7587a6" stroke-width="9"/><path d="M83.5,462 C79.5,473 69.8,489 69.8,514.6 A17.75,17.75 0 0 0 105.2,514.6 C105.2,489 95.5,473 91.5,462" stroke="#6b7e9f" stroke-width="4"/><path d="M139.5,467.8 C135.5,478.8 125.8,494.8 125.8,520.4 A17.75,17.75 0 0 0 161.2,520.4 C161.2,494.8 151.5,478.8 147.5,467.8" stroke="#6b7e9f" stroke-width="4"/><path d="M195.5,472.3 C191.5,483.3 181.8,499.3 181.8,524.9 A17.75,17.75 0 0 0 217.2,524.9 C217.2,499.3 207.5,483.3 203.5,472.3" stroke="#6b7e9f" stroke-width="4"/><path d="M251.5,475.6 C247.5,486.6 237.8,502.6 237.8,528.2 A17.75,17.75 0 0 0 273.2,528.2 C273.2,502.6 263.5,486.6 259.5,475.6" stroke="#6b7e9f" stroke-width="4"/><path d="M307.5,477.5 C303.5,488.5 293.8,504.5 293.8,530.1 A17.75,17.75 0 0 0 329.2,530.1 C329.2,504.5 319.5,488.5 315.5,477.5" stroke="#6b7e9f" stroke-width="4"/><path d="M363.5,478.1 C359.5,489.1 349.8,505.1 349.8,530.7 A17.75,17.75 0 0 0 385.2,530.7 C385.2,505.1 375.5,489.1 371.5,478.1" stroke="#6b7e9f" stroke-width="4"/><path d="M419.5,477.5 C415.5,488.5 405.8,504.5 405.8,530.1 A17.75,17.75 0 0 0 441.2,530.1 C441.2,504.5 431.5,488.5 427.5,477.5" stroke="#6b7e9f" stroke-width="4"/><path d="M475.5,475.5 C471.5,486.5 461.8,502.5 461.8,528.1 A17.75,17.75 0 0 0 497.2,528.1 C497.2,502.5 487.5,486.5 483.5,475.5" stroke="#6b7e9f" stroke-width="4"/><path d="M531.5,472.3 C527.5,483.3 517.8,499.3 517.8,524.9 A17.75,17.75 0 0 0 553.2,524.9 C553.2,499.3 543.5,483.3 539.5,472.3" stroke="#6b7e9f" stroke-width="4"/><path d="M587.5,467.7 C583.5,478.7 573.8,494.7 573.8,520.3 A17.75,17.75 0 0 0 609.2,520.3 C609.2,494.7 599.5,478.7 595.5,467.7" stroke="#6b7e9f" stroke-width="4"/><path d="M643.5,461.9 C639.5,472.9 629.8,488.9 629.8,514.5 A17.75,17.75 0 0 0 665.2,514.5 C665.2,488.9 655.5,472.9 651.5,461.9" stroke="#6b7e9f" stroke-width="4"/></g></g><path d="M125.5,559.5 C127,564.4 133.2,569.2 133.2,575.8 A7.8,7.8 0 0 1 117.8,575.8 C117.8,569.2 124,564.4 125.5,559.5 Z" fill="url(#dg)" stroke="#2d88d0" stroke-width="0.7"/><path d="M124,563.6 C119.7,569.2 118.9,575.8 120.8,580" fill="none" stroke="#ffffff" stroke-width="0.9" opacity="0.9" stroke-linecap="round"/><ellipse cx="123.2" cy="575" rx="2.5" ry="6.2" fill="#ffffff" opacity="0.6" transform="rotate(15 123.2 575)" filter="url(#bl2)"/><path d="M129.8,574.1 C130.9,577.3 129.4,580.4 126.3,582" fill="none" stroke="#d8ecfa" stroke-width="0.8" opacity="0.7" stroke-linecap="round"/><path d="M281,548.4 C282.6,553.3 288.8,558.1 288.8,564.6 A7.8,7.8 0 0 1 273.2,564.6 C273.2,558.1 279.4,553.3 281,548.4 Z" fill="url(#dg)" stroke="#2d88d0" stroke-width="0.7"/><path d="M279.4,552.5 C275.2,558.1 274.4,564.6 276.4,568.9" fill="none" stroke="#ffffff" stroke-width="0.9" opacity="0.9" stroke-linecap="round"/><ellipse cx="278.7" cy="563.9" rx="2.5" ry="6.2" fill="#ffffff" opacity="0.6" transform="rotate(15 278.7 563.9)" filter="url(#bl2)"/><path d="M285.3,563 C286.4,566.2 284.9,569.3 281.8,570.9" fill="none" stroke="#d8ecfa" stroke-width="0.8" opacity="0.7" stroke-linecap="round"/><path d="M226.6,578.4 C228.2,583.3 234.3,588.1 234.3,594.6 A7.8,7.8 0 0 1 218.8,594.6 C218.8,588.1 225,583.3 226.6,578.4 Z" fill="url(#dg)" stroke="#2d88d0" stroke-width="0.7"/><path d="M225,582.5 C220.8,588.1 220,594.6 221.9,598.9" fill="none" stroke="#ffffff" stroke-width="0.9" opacity="0.9" stroke-linecap="round"/><ellipse cx="224.3" cy="593.9" rx="2.5" ry="6.2" fill="#ffffff" opacity="0.6" transform="rotate(15 224.3 593.9)" filter="url(#bl2)"/><path d="M230.9,593 C232,596.2 230.5,599.3 227.4,600.9" fill="none" stroke="#d8ecfa" stroke-width="0.8" opacity="0.7" stroke-linecap="round"/><path d="M343,577.5 C344.6,582.4 350.8,587.2 350.8,593.8 A7.8,7.8 0 0 1 335.2,593.8 C335.2,587.2 341.4,582.4 343,577.5 Z" fill="url(#dg)" stroke="#2d88d0" stroke-width="0.7"/><path d="M341.4,581.6 C337.2,587.2 336.4,593.8 338.4,598" fill="none" stroke="#ffffff" stroke-width="0.9" opacity="0.9" stroke-linecap="round"/><ellipse cx="340.7" cy="593" rx="2.5" ry="6.2" fill="#ffffff" opacity="0.6" transform="rotate(15 340.7 593)" filter="url(#bl2)"/><path d="M347.3,592.1 C348.4,595.3 346.9,598.4 343.8,600" fill="none" stroke="#d8ecfa" stroke-width="0.8" opacity="0.7" stroke-linecap="round"/><path d="M424,560 C425.6,564.9 431.8,569.8 431.8,576.2 A7.8,7.8 0 0 1 416.2,576.2 C416.2,569.8 422.4,564.9 424,560 Z" fill="url(#dg)" stroke="#2d88d0" stroke-width="0.7"/><path d="M422.4,564.1 C418.2,569.8 417.4,576.2 419.4,580.5" fill="none" stroke="#ffffff" stroke-width="0.9" opacity="0.9" stroke-linecap="round"/><ellipse cx="421.7" cy="575.5" rx="2.5" ry="6.2" fill="#ffffff" opacity="0.6" transform="rotate(15 421.7 575.5)" filter="url(#bl2)"/><path d="M428.3,574.6 C429.4,577.8 427.9,580.9 424.8,582.5" fill="none" stroke="#d8ecfa" stroke-width="0.8" opacity="0.7" stroke-linecap="round"/><path d="M505.9,581.3 C507.4,586.2 513.6,591 513.6,597.5 A7.8,7.8 0 0 1 498.1,597.5 C498.1,591 504.3,586.2 505.9,581.3 Z" fill="url(#dg)" stroke="#2d88d0" stroke-width="0.7"/><path d="M504.3,585.4 C500.1,591 499.3,597.5 501.2,601.8" fill="none" stroke="#ffffff" stroke-width="0.9" opacity="0.9" stroke-linecap="round"/><ellipse cx="503.6" cy="596.8" rx="2.5" ry="6.2" fill="#ffffff" opacity="0.6" transform="rotate(15 503.6 596.8)" filter="url(#bl2)"/><path d="M510.2,595.9 C511.3,599.1 509.8,602.2 506.7,603.8" fill="none" stroke="#d8ecfa" stroke-width="0.8" opacity="0.7" stroke-linecap="round"/><path d="M606,562.7 C607.5,567.6 613.8,572.5 613.8,579 A7.8,7.8 0 0 1 598.2,579 C598.2,572.5 604.5,567.6 606,562.7 Z" fill="url(#dg)" stroke="#2d88d0" stroke-width="0.7"/><path d="M604.5,566.8 C600.2,572.5 599.4,579 601.4,583.2" fill="none" stroke="#ffffff" stroke-width="0.9" opacity="0.9" stroke-linecap="round"/><ellipse cx="603.7" cy="578.2" rx="2.5" ry="6.2" fill="#ffffff" opacity="0.6" transform="rotate(15 603.7 578.2)" filter="url(#bl2)"/><path d="M610.3,577.3 C611.4,580.5 609.9,583.6 606.8,585.2" fill="none" stroke="#d8ecfa" stroke-width="0.8" opacity="0.7" stroke-linecap="round"/><path d="M111,646.1 L120,646.1 L119.3,658.6 Q115.5,660.1 111.7,658.6 Z" fill="url(#bar2)"/><path d="M167,651.2 L176,651.2 L175.3,663.7 Q171.5,665.2 167.7,663.7 Z" fill="url(#bar2)"/><path d="M223,655.1 L232,655.1 L231.3,667.6 Q227.5,669.1 223.7,667.6 Z" fill="url(#bar2)"/><path d="M279,657.7 L288,657.7 L287.3,670.2 Q283.5,671.7 279.7,670.2 Z" fill="url(#bar2)"/><path d="M335,659 L344,659 L343.3,671.5 Q339.5,673 335.7,671.5 Z" fill="url(#bar2)"/><path d="M391,659 L400,659 L399.3,671.5 Q395.5,673 391.7,671.5 Z" fill="url(#bar2)"/><path d="M447,657.7 L456,657.7 L455.3,670.2 Q451.5,671.7 447.7,670.2 Z" fill="url(#bar2)"/><path d="M503,655.1 L512,655.1 L511.3,667.6 Q507.5,669.1 503.7,667.6 Z" fill="url(#bar2)"/><path d="M559,651.2 L568,651.2 L567.3,663.7 Q563.5,665.2 559.7,663.7 Z" fill="url(#bar2)"/><path d="M615,645.9 L624,645.9 L623.3,658.4 Q619.5,659.9 615.7,658.4 Z" fill="url(#bar2)"/><ellipse cx="59" cy="645" rx="4.2" ry="6.2" fill="#3a5594"/><ellipse cx="674" cy="645" rx="4.2" ry="6.2" fill="#3a5594"/><g><path d="M111,687.1 C97,674.1 92.5,644.1 92.5,622.1 A23,23 0 0 1 138.5,622.1 C138.5,644.1 134,674.1 120,687.1 C118,668.1 123.5,652.1 122.5,622.1 A7,7 0 0 0 108.5,622.1 C107.5,652.1 113,668.1 111,687.1 Z" fill="#fff" stroke="#fff" stroke-width="3" fill-rule="evenodd"/><path d="M167,692.2 C153,679.2 148.5,649.2 148.5,627.2 A23,23 0 0 1 194.5,627.2 C194.5,649.2 190,679.2 176,692.2 C174,673.2 179.5,657.2 178.5,627.2 A7,7 0 0 0 164.5,627.2 C163.5,657.2 169,673.2 167,692.2 Z" fill="#fff" stroke="#fff" stroke-width="3" fill-rule="evenodd"/><path d="M223,696.1 C209,683.1 204.5,653.1 204.5,631.1 A23,23 0 0 1 250.5,631.1 C250.5,653.1 246,683.1 232,696.1 C230,677.1 235.5,661.1 234.5,631.1 A7,7 0 0 0 220.5,631.1 C219.5,661.1 225,677.1 223,696.1 Z" fill="#fff" stroke="#fff" stroke-width="3" fill-rule="evenodd"/><path d="M279,698.7 C265,685.7 260.5,655.7 260.5,633.7 A23,23 0 0 1 306.5,633.7 C306.5,655.7 302,685.7 288,698.7 C286,679.7 291.5,663.7 290.5,633.7 A7,7 0 0 0 276.5,633.7 C275.5,663.7 281,679.7 279,698.7 Z" fill="#fff" stroke="#fff" stroke-width="3" fill-rule="evenodd"/><path d="M335,700 C321,687 316.5,657 316.5,635 A23,23 0 0 1 362.5,635 C362.5,657 358,687 344,700 C342,681 347.5,665 346.5,635 A7,7 0 0 0 332.5,635 C331.5,665 337,681 335,700 Z" fill="#fff" stroke="#fff" stroke-width="3" fill-rule="evenodd"/><path d="M391,700 C377,687 372.5,657 372.5,635 A23,23 0 0 1 418.5,635 C418.5,657 414,687 400,700 C398,681 403.5,665 402.5,635 A7,7 0 0 0 388.5,635 C387.5,665 393,681 391,700 Z" fill="#fff" stroke="#fff" stroke-width="3" fill-rule="evenodd"/><path d="M447,698.7 C433,685.7 428.5,655.7 428.5,633.7 A23,23 0 0 1 474.5,633.7 C474.5,655.7 470,685.7 456,698.7 C454,679.7 459.5,663.7 458.5,633.7 A7,7 0 0 0 444.5,633.7 C443.5,663.7 449,679.7 447,698.7 Z" fill="#fff" stroke="#fff" stroke-width="3" fill-rule="evenodd"/><path d="M503,696.1 C489,683.1 484.5,653.1 484.5,631.1 A23,23 0 0 1 530.5,631.1 C530.5,653.1 526,683.1 512,696.1 C510,677.1 515.5,661.1 514.5,631.1 A7,7 0 0 0 500.5,631.1 C499.5,661.1 505,677.1 503,696.1 Z" fill="#fff" stroke="#fff" stroke-width="3" fill-rule="evenodd"/><path d="M559,692.2 C545,679.2 540.5,649.2 540.5,627.2 A23,23 0 0 1 586.5,627.2 C586.5,649.2 582,679.2 568,692.2 C566,673.2 571.5,657.2 570.5,627.2 A7,7 0 0 0 556.5,627.2 C555.5,657.2 561,673.2 559,692.2 Z" fill="#fff" stroke="#fff" stroke-width="3" fill-rule="evenodd"/><path d="M615,686.9 C601,673.9 596.5,643.9 596.5,621.9 A23,23 0 0 1 642.5,621.9 C642.5,643.9 638,673.9 624,686.9 C622,667.9 627.5,651.9 626.5,621.9 A7,7 0 0 0 612.5,621.9 C611.5,651.9 617,667.9 615,686.9 Z" fill="#fff" stroke="#fff" stroke-width="3" fill-rule="evenodd"/><path d="M60,600 C65,599 75,602 75,617 L75,674" fill="none" stroke="#fff" stroke-width="18.5"/><path d="M674,600 C669,599 659,602 659,617 L659.5,674" fill="none" stroke="#fff" stroke-width="18.5"/></g><mask id="lm2" maskUnits="userSpaceOnUse" x="0" y="0" width="1200" height="800"><path d="M111,687.1 C97,674.1 92.5,644.1 92.5,622.1 A23,23 0 0 1 138.5,622.1 C138.5,644.1 134,674.1 120,687.1 C118,668.1 123.5,652.1 122.5,622.1 A7,7 0 0 0 108.5,622.1 C107.5,652.1 113,668.1 111,687.1 Z" fill="#fff" fill-rule="evenodd"/><path d="M167,692.2 C153,679.2 148.5,649.2 148.5,627.2 A23,23 0 0 1 194.5,627.2 C194.5,649.2 190,679.2 176,692.2 C174,673.2 179.5,657.2 178.5,627.2 A7,7 0 0 0 164.5,627.2 C163.5,657.2 169,673.2 167,692.2 Z" fill="#fff" fill-rule="evenodd"/><path d="M223,696.1 C209,683.1 204.5,653.1 204.5,631.1 A23,23 0 0 1 250.5,631.1 C250.5,653.1 246,683.1 232,696.1 C230,677.1 235.5,661.1 234.5,631.1 A7,7 0 0 0 220.5,631.1 C219.5,661.1 225,677.1 223,696.1 Z" fill="#fff" fill-rule="evenodd"/><path d="M279,698.7 C265,685.7 260.5,655.7 260.5,633.7 A23,23 0 0 1 306.5,633.7 C306.5,655.7 302,685.7 288,698.7 C286,679.7 291.5,663.7 290.5,633.7 A7,7 0 0 0 276.5,633.7 C275.5,663.7 281,679.7 279,698.7 Z" fill="#fff" fill-rule="evenodd"/><path d="M335,700 C321,687 316.5,657 316.5,635 A23,23 0 0 1 362.5,635 C362.5,657 358,687 344,700 C342,681 347.5,665 346.5,635 A7,7 0 0 0 332.5,635 C331.5,665 337,681 335,700 Z" fill="#fff" fill-rule="evenodd"/><path d="M391,700 C377,687 372.5,657 372.5,635 A23,23 0 0 1 418.5,635 C418.5,657 414,687 400,700 C398,681 403.5,665 402.5,635 A7,7 0 0 0 388.5,635 C387.5,665 393,681 391,700 Z" fill="#fff" fill-rule="evenodd"/><path d="M447,698.7 C433,685.7 428.5,655.7 428.5,633.7 A23,23 0 0 1 474.5,633.7 C474.5,655.7 470,685.7 456,698.7 C454,679.7 459.5,663.7 458.5,633.7 A7,7 0 0 0 444.5,633.7 C443.5,663.7 449,679.7 447,698.7 Z" fill="#fff" fill-rule="evenodd"/><path d="M503,696.1 C489,683.1 484.5,653.1 484.5,631.1 A23,23 0 0 1 530.5,631.1 C530.5,653.1 526,683.1 512,696.1 C510,677.1 515.5,661.1 514.5,631.1 A7,7 0 0 0 500.5,631.1 C499.5,661.1 505,677.1 503,696.1 Z" fill="#fff" fill-rule="evenodd"/><path d="M559,692.2 C545,679.2 540.5,649.2 540.5,627.2 A23,23 0 0 1 586.5,627.2 C586.5,649.2 582,679.2 568,692.2 C566,673.2 571.5,657.2 570.5,627.2 A7,7 0 0 0 556.5,627.2 C555.5,657.2 561,673.2 559,692.2 Z" fill="#fff" fill-rule="evenodd"/><path d="M615,686.9 C601,673.9 596.5,643.9 596.5,621.9 A23,23 0 0 1 642.5,621.9 C642.5,643.9 638,673.9 624,686.9 C622,667.9 627.5,651.9 626.5,621.9 A7,7 0 0 0 612.5,621.9 C611.5,651.9 617,667.9 615,686.9 Z" fill="#fff" fill-rule="evenodd"/></mask><g mask="url(#lm2)"><g filter="url(#bl6)"><path d="M111,687.1 C97,674.1 92.5,644.1 92.5,622.1 A23,23 0 0 1 138.5,622.1 C138.5,644.1 134,674.1 120,687.1 C118,668.1 123.5,652.1 122.5,622.1 A7,7 0 0 0 108.5,622.1 C107.5,652.1 113,668.1 111,687.1 Z" fill="#adb5c3" fill-rule="evenodd"/><path d="M167,692.2 C153,679.2 148.5,649.2 148.5,627.2 A23,23 0 0 1 194.5,627.2 C194.5,649.2 190,679.2 176,692.2 C174,673.2 179.5,657.2 178.5,627.2 A7,7 0 0 0 164.5,627.2 C163.5,657.2 169,673.2 167,692.2 Z" fill="#adb5c3" fill-rule="evenodd"/><path d="M223,696.1 C209,683.1 204.5,653.1 204.5,631.1 A23,23 0 0 1 250.5,631.1 C250.5,653.1 246,683.1 232,696.1 C230,677.1 235.5,661.1 234.5,631.1 A7,7 0 0 0 220.5,631.1 C219.5,661.1 225,677.1 223,696.1 Z" fill="#adb5c3" fill-rule="evenodd"/><path d="M279,698.7 C265,685.7 260.5,655.7 260.5,633.7 A23,23 0 0 1 306.5,633.7 C306.5,655.7 302,685.7 288,698.7 C286,679.7 291.5,663.7 290.5,633.7 A7,7 0 0 0 276.5,633.7 C275.5,663.7 281,679.7 279,698.7 Z" fill="#adb5c3" fill-rule="evenodd"/><path d="M335,700 C321,687 316.5,657 316.5,635 A23,23 0 0 1 362.5,635 C362.5,657 358,687 344,700 C342,681 347.5,665 346.5,635 A7,7 0 0 0 332.5,635 C331.5,665 337,681 335,700 Z" fill="#adb5c3" fill-rule="evenodd"/><path d="M391,700 C377,687 372.5,657 372.5,635 A23,23 0 0 1 418.5,635 C418.5,657 414,687 400,700 C398,681 403.5,665 402.5,635 A7,7 0 0 0 388.5,635 C387.5,665 393,681 391,700 Z" fill="#adb5c3" fill-rule="evenodd"/><path d="M447,698.7 C433,685.7 428.5,655.7 428.5,633.7 A23,23 0 0 1 474.5,633.7 C474.5,655.7 470,685.7 456,698.7 C454,679.7 459.5,663.7 458.5,633.7 A7,7 0 0 0 444.5,633.7 C443.5,663.7 449,679.7 447,698.7 Z" fill="#adb5c3" fill-rule="evenodd"/><path d="M503,696.1 C489,683.1 484.5,653.1 484.5,631.1 A23,23 0 0 1 530.5,631.1 C530.5,653.1 526,683.1 512,696.1 C510,677.1 515.5,661.1 514.5,631.1 A7,7 0 0 0 500.5,631.1 C499.5,661.1 505,677.1 503,696.1 Z" fill="#adb5c3" fill-rule="evenodd"/><path d="M559,692.2 C545,679.2 540.5,649.2 540.5,627.2 A23,23 0 0 1 586.5,627.2 C586.5,649.2 582,679.2 568,692.2 C566,673.2 571.5,657.2 570.5,627.2 A7,7 0 0 0 556.5,627.2 C555.5,657.2 561,673.2 559,692.2 Z" fill="#adb5c3" fill-rule="evenodd"/><path d="M615,686.9 C601,673.9 596.5,643.9 596.5,621.9 A23,23 0 0 1 642.5,621.9 C642.5,643.9 638,673.9 624,686.9 C622,667.9 627.5,651.9 626.5,621.9 A7,7 0 0 0 612.5,621.9 C611.5,651.9 617,667.9 615,686.9 Z" fill="#adb5c3" fill-rule="evenodd"/></g><g fill="none" filter="url(#bl4)"><path d="M111.5,686.1 C104.5,670.1 100.5,645.1 100.5,622.1 A15,15 0 0 1 130.5,622.1 C130.5,645.1 126.5,670.1 119.5,686.1" stroke="#ccd2dc" stroke-width="13"/><path d="M167.5,691.2 C160.5,675.2 156.5,650.2 156.5,627.2 A15,15 0 0 1 186.5,627.2 C186.5,650.2 182.5,675.2 175.5,691.2" stroke="#ccd2dc" stroke-width="13"/><path d="M223.5,695.1 C216.5,679.1 212.5,654.1 212.5,631.1 A15,15 0 0 1 242.5,631.1 C242.5,654.1 238.5,679.1 231.5,695.1" stroke="#ccd2dc" stroke-width="13"/><path d="M279.5,697.7 C272.5,681.7 268.5,656.7 268.5,633.7 A15,15 0 0 1 298.5,633.7 C298.5,656.7 294.5,681.7 287.5,697.7" stroke="#ccd2dc" stroke-width="13"/><path d="M335.5,699 C328.5,683 324.5,658 324.5,635 A15,15 0 0 1 354.5,635 C354.5,658 350.5,683 343.5,699" stroke="#ccd2dc" stroke-width="13"/><path d="M391.5,699 C384.5,683 380.5,658 380.5,635 A15,15 0 0 1 410.5,635 C410.5,658 406.5,683 399.5,699" stroke="#ccd2dc" stroke-width="13"/><path d="M447.5,697.7 C440.5,681.7 436.5,656.7 436.5,633.7 A15,15 0 0 1 466.5,633.7 C466.5,656.7 462.5,681.7 455.5,697.7" stroke="#ccd2dc" stroke-width="13"/><path d="M503.5,695.1 C496.5,679.1 492.5,654.1 492.5,631.1 A15,15 0 0 1 522.5,631.1 C522.5,654.1 518.5,679.1 511.5,695.1" stroke="#ccd2dc" stroke-width="13"/><path d="M559.5,691.2 C552.5,675.2 548.5,650.2 548.5,627.2 A15,15 0 0 1 578.5,627.2 C578.5,650.2 574.5,675.2 567.5,691.2" stroke="#ccd2dc" stroke-width="13"/><path d="M615.5,685.9 C608.5,669.9 604.5,644.9 604.5,621.9 A15,15 0 0 1 634.5,621.9 C634.5,644.9 630.5,669.9 623.5,685.9" stroke="#ccd2dc" stroke-width="13"/><path d="M111.5,686.1 C104.5,670.1 100.5,645.1 100.5,622.1 A15,15 0 0 1 130.5,622.1 C130.5,645.1 126.5,670.1 119.5,686.1" stroke="#f1f3f6" stroke-width="6"/><path d="M167.5,691.2 C160.5,675.2 156.5,650.2 156.5,627.2 A15,15 0 0 1 186.5,627.2 C186.5,650.2 182.5,675.2 175.5,691.2" stroke="#f1f3f6" stroke-width="6"/><path d="M223.5,695.1 C216.5,679.1 212.5,654.1 212.5,631.1 A15,15 0 0 1 242.5,631.1 C242.5,654.1 238.5,679.1 231.5,695.1" stroke="#f1f3f6" stroke-width="6"/><path d="M279.5,697.7 C272.5,681.7 268.5,656.7 268.5,633.7 A15,15 0 0 1 298.5,633.7 C298.5,656.7 294.5,681.7 287.5,697.7" stroke="#f1f3f6" stroke-width="6"/><path d="M335.5,699 C328.5,683 324.5,658 324.5,635 A15,15 0 0 1 354.5,635 C354.5,658 350.5,683 343.5,699" stroke="#f1f3f6" stroke-width="6"/><path d="M391.5,699 C384.5,683 380.5,658 380.5,635 A15,15 0 0 1 410.5,635 C410.5,658 406.5,683 399.5,699" stroke="#f1f3f6" stroke-width="6"/><path d="M447.5,697.7 C440.5,681.7 436.5,656.7 436.5,633.7 A15,15 0 0 1 466.5,633.7 C466.5,656.7 462.5,681.7 455.5,697.7" stroke="#f1f3f6" stroke-width="6"/><path d="M503.5,695.1 C496.5,679.1 492.5,654.1 492.5,631.1 A15,15 0 0 1 522.5,631.1 C522.5,654.1 518.5,679.1 511.5,695.1" stroke="#f1f3f6" stroke-width="6"/><path d="M559.5,691.2 C552.5,675.2 548.5,650.2 548.5,627.2 A15,15 0 0 1 578.5,627.2 C578.5,650.2 574.5,675.2 567.5,691.2" stroke="#f1f3f6" stroke-width="6"/><path d="M615.5,685.9 C608.5,669.9 604.5,644.9 604.5,621.9 A15,15 0 0 1 634.5,621.9 C634.5,644.9 630.5,669.9 623.5,685.9" stroke="#f1f3f6" stroke-width="6"/></g><g filter="url(#bl5)"><path d="M223.5,695.1 C216.5,679.1 212.5,654.1 212.5,631.1 A15,15 0 0 1 242.5,631.1 C242.5,654.1 238.5,679.1 231.5,695.1" stroke="url(#blue2_2)" stroke-width="7" fill="none"/><path d="M335.5,699 C328.5,683 324.5,658 324.5,635 A15,15 0 0 1 354.5,635 C354.5,658 350.5,683 343.5,699" stroke="url(#blue2_4)" stroke-width="7" fill="none"/><path d="M503.5,695.1 C496.5,679.1 492.5,654.1 492.5,631.1 A15,15 0 0 1 522.5,631.1 C522.5,654.1 518.5,679.1 511.5,695.1" stroke="url(#blue2_7)" stroke-width="7" fill="none"/></g></g><g fill="none" filter="url(#bl6)"><path d="M60,600 C65,599 75,602 75,617 L75,674" stroke="#adb5c3" stroke-width="16"/><path d="M674,600 C669,599 659,602 659,617 L659.5,674" stroke="#adb5c3" stroke-width="16"/></g><g fill="none" filter="url(#bl4)"><path d="M60,600 C65,599 75,602 75,617 L75,674" stroke="#ccd2dc" stroke-width="13"/><path d="M674,600 C669,599 659,602 659,617 L659.5,674" stroke="#ccd2dc" stroke-width="13"/><path d="M60,600 C65,599 75,602 75,617 L75,674" stroke="#f1f3f6" stroke-width="6"/><path d="M674,600 C669,599 659,602 659,617 L659.5,674" stroke="#f1f3f6" stroke-width="6"/></g><ellipse cx="59.5" cy="600" rx="5.5" ry="7" fill="#e3e9f0" stroke="#ffffff" stroke-width="1" transform="rotate(-40 59.5 600)"/><ellipse cx="674" cy="600" rx="5.5" ry="7" fill="#e3e9f0" stroke="#ffffff" stroke-width="1" transform="rotate(40 674 600)"/><g filter="url(#bl4)"><path d="M82.5,663 L92.5,663 L91.5,677 Q87.5,685 83.5,677 Z" fill="#ccd2dc" opacity="0.8"/><path d="M138.5,668.8 L148.5,668.8 L147.5,682.8 Q143.5,690.8 139.5,682.8 Z" fill="#ccd2dc" opacity="0.8"/><path d="M194.5,673.3 L204.5,673.3 L203.5,687.3 Q199.5,695.3 195.5,687.3 Z" fill="#ccd2dc" opacity="0.8"/><path d="M250.5,676.6 L260.5,676.6 L259.5,690.6 Q255.5,698.6 251.5,690.6 Z" fill="#ccd2dc" opacity="0.8"/><path d="M306.5,678.5 L316.5,678.5 L315.5,692.5 Q311.5,700.5 307.5,692.5 Z" fill="#ccd2dc" opacity="0.8"/><path d="M362.5,679.1 L372.5,679.1 L371.5,693.1 Q367.5,701.1 363.5,693.1 Z" fill="#ccd2dc" opacity="0.8"/><path d="M418.5,678.5 L428.5,678.5 L427.5,692.5 Q423.5,700.5 419.5,692.5 Z" fill="#ccd2dc" opacity="0.8"/><path d="M474.5,676.5 L484.5,676.5 L483.5,690.5 Q479.5,698.5 475.5,690.5 Z" fill="#ccd2dc" opacity="0.8"/><path d="M530.5,673.3 L540.5,673.3 L539.5,687.3 Q535.5,695.3 531.5,687.3 Z" fill="#ccd2dc" opacity="0.8"/><path d="M586.5,668.7 L596.5,668.7 L595.5,682.7 Q591.5,690.7 587.5,682.7 Z" fill="#ccd2dc" opacity="0.8"/><path d="M642.5,662.9 L652.5,662.9 L651.5,676.9 Q647.5,684.9 643.5,676.9 Z" fill="#ccd2dc" opacity="0.8"/></g><mask id="rm2" maskUnits="userSpaceOnUse" x="0" y="0" width="1200" height="800"><path d="M82,651.5 C71.5,662 63.5,679 63.5,704.6 A24,24 0 0 0 111.5,704.6 C111.5,679 103.5,662 93,651.5 C91,659 90.5,670 92,678 C93.5,685 99,689 99,704.6 A11.5,11.5 0 0 1 76,704.6 C76,689 81.5,685 83,678 C84.5,670 84,659 82,651.5 Z" fill="#fff"/><path d="M138,657.3 C127.5,667.8 119.5,684.8 119.5,710.4 A24,24 0 0 0 167.5,710.4 C167.5,684.8 159.5,667.8 149,657.3 C147,664.8 146.5,675.8 148,683.8 C149.5,690.8 155,694.8 155,710.4 A11.5,11.5 0 0 1 132,710.4 C132,694.8 137.5,690.8 139,683.8 C140.5,675.8 140,664.8 138,657.3 Z" fill="#fff"/><path d="M194,661.8 C183.5,672.3 175.5,689.3 175.5,714.9 A24,24 0 0 0 223.5,714.9 C223.5,689.3 215.5,672.3 205,661.8 C203,669.3 202.5,680.3 204,688.3 C205.5,695.3 211,699.3 211,714.9 A11.5,11.5 0 0 1 188,714.9 C188,699.3 193.5,695.3 195,688.3 C196.5,680.3 196,669.3 194,661.8 Z" fill="#fff"/><path d="M250,665.1 C239.5,675.6 231.5,692.6 231.5,718.2 A24,24 0 0 0 279.5,718.2 C279.5,692.6 271.5,675.6 261,665.1 C259,672.6 258.5,683.6 260,691.6 C261.5,698.6 267,702.6 267,718.2 A11.5,11.5 0 0 1 244,718.2 C244,702.6 249.5,698.6 251,691.6 C252.5,683.6 252,672.6 250,665.1 Z" fill="#fff"/><path d="M306,667 C295.5,677.5 287.5,694.5 287.5,720.1 A24,24 0 0 0 335.5,720.1 C335.5,694.5 327.5,677.5 317,667 C315,674.5 314.5,685.5 316,693.5 C317.5,700.5 323,704.5 323,720.1 A11.5,11.5 0 0 1 300,720.1 C300,704.5 305.5,700.5 307,693.5 C308.5,685.5 308,674.5 306,667 Z" fill="#fff"/><path d="M362,667.6 C351.5,678.1 343.5,695.1 343.5,720.7 A24,24 0 0 0 391.5,720.7 C391.5,695.1 383.5,678.1 373,667.6 C371,675.1 370.5,686.1 372,694.1 C373.5,701.1 379,705.1 379,720.7 A11.5,11.5 0 0 1 356,720.7 C356,705.1 361.5,701.1 363,694.1 C364.5,686.1 364,675.1 362,667.6 Z" fill="#fff"/><path d="M418,667 C407.5,677.5 399.5,694.5 399.5,720.1 A24,24 0 0 0 447.5,720.1 C447.5,694.5 439.5,677.5 429,667 C427,674.5 426.5,685.5 428,693.5 C429.5,700.5 435,704.5 435,720.1 A11.5,11.5 0 0 1 412,720.1 C412,704.5 417.5,700.5 419,693.5 C420.5,685.5 420,674.5 418,667 Z" fill="#fff"/><path d="M474,665 C463.5,675.5 455.5,692.5 455.5,718.1 A24,24 0 0 0 503.5,718.1 C503.5,692.5 495.5,675.5 485,665 C483,672.5 482.5,683.5 484,691.5 C485.5,698.5 491,702.5 491,718.1 A11.5,11.5 0 0 1 468,718.1 C468,702.5 473.5,698.5 475,691.5 C476.5,683.5 476,672.5 474,665 Z" fill="#fff"/><path d="M530,661.8 C519.5,672.3 511.5,689.3 511.5,714.9 A24,24 0 0 0 559.5,714.9 C559.5,689.3 551.5,672.3 541,661.8 C539,669.3 538.5,680.3 540,688.3 C541.5,695.3 547,699.3 547,714.9 A11.5,11.5 0 0 1 524,714.9 C524,699.3 529.5,695.3 531,688.3 C532.5,680.3 532,669.3 530,661.8 Z" fill="#fff"/><path d="M586,657.2 C575.5,667.7 567.5,684.7 567.5,710.3 A24,24 0 0 0 615.5,710.3 C615.5,684.7 607.5,667.7 597,657.2 C595,664.7 594.5,675.7 596,683.7 C597.5,690.7 603,694.7 603,710.3 A11.5,11.5 0 0 1 580,710.3 C580,694.7 585.5,690.7 587,683.7 C588.5,675.7 588,664.7 586,657.2 Z" fill="#fff"/><path d="M642,651.4 C631.5,661.9 623.5,678.9 623.5,704.5 A24,24 0 0 0 671.5,704.5 C671.5,678.9 663.5,661.9 653,651.4 C651,658.9 650.5,669.9 652,677.9 C653.5,684.9 659,688.9 659,704.5 A11.5,11.5 0 0 1 636,704.5 C636,688.9 641.5,684.9 643,677.9 C644.5,669.9 644,658.9 642,651.4 Z" fill="#fff"/></mask><g><path d="M82,651.5 C71.5,662 63.5,679 63.5,704.6 A24,24 0 0 0 111.5,704.6 C111.5,679 103.5,662 93,651.5 C91,659 90.5,670 92,678 C93.5,685 99,689 99,704.6 A11.5,11.5 0 0 1 76,704.6 C76,689 81.5,685 83,678 C84.5,670 84,659 82,651.5 Z" fill="#fff" stroke="#fff" stroke-width="3.5" stroke-linejoin="round"/><path d="M138,657.3 C127.5,667.8 119.5,684.8 119.5,710.4 A24,24 0 0 0 167.5,710.4 C167.5,684.8 159.5,667.8 149,657.3 C147,664.8 146.5,675.8 148,683.8 C149.5,690.8 155,694.8 155,710.4 A11.5,11.5 0 0 1 132,710.4 C132,694.8 137.5,690.8 139,683.8 C140.5,675.8 140,664.8 138,657.3 Z" fill="#fff" stroke="#fff" stroke-width="3.5" stroke-linejoin="round"/><path d="M194,661.8 C183.5,672.3 175.5,689.3 175.5,714.9 A24,24 0 0 0 223.5,714.9 C223.5,689.3 215.5,672.3 205,661.8 C203,669.3 202.5,680.3 204,688.3 C205.5,695.3 211,699.3 211,714.9 A11.5,11.5 0 0 1 188,714.9 C188,699.3 193.5,695.3 195,688.3 C196.5,680.3 196,669.3 194,661.8 Z" fill="#fff" stroke="#fff" stroke-width="3.5" stroke-linejoin="round"/><path d="M250,665.1 C239.5,675.6 231.5,692.6 231.5,718.2 A24,24 0 0 0 279.5,718.2 C279.5,692.6 271.5,675.6 261,665.1 C259,672.6 258.5,683.6 260,691.6 C261.5,698.6 267,702.6 267,718.2 A11.5,11.5 0 0 1 244,718.2 C244,702.6 249.5,698.6 251,691.6 C252.5,683.6 252,672.6 250,665.1 Z" fill="#fff" stroke="#fff" stroke-width="3.5" stroke-linejoin="round"/><path d="M306,667 C295.5,677.5 287.5,694.5 287.5,720.1 A24,24 0 0 0 335.5,720.1 C335.5,694.5 327.5,677.5 317,667 C315,674.5 314.5,685.5 316,693.5 C317.5,700.5 323,704.5 323,720.1 A11.5,11.5 0 0 1 300,720.1 C300,704.5 305.5,700.5 307,693.5 C308.5,685.5 308,674.5 306,667 Z" fill="#fff" stroke="#fff" stroke-width="3.5" stroke-linejoin="round"/><path d="M362,667.6 C351.5,678.1 343.5,695.1 343.5,720.7 A24,24 0 0 0 391.5,720.7 C391.5,695.1 383.5,678.1 373,667.6 C371,675.1 370.5,686.1 372,694.1 C373.5,701.1 379,705.1 379,720.7 A11.5,11.5 0 0 1 356,720.7 C356,705.1 361.5,701.1 363,694.1 C364.5,686.1 364,675.1 362,667.6 Z" fill="#fff" stroke="#fff" stroke-width="3.5" stroke-linejoin="round"/><path d="M418,667 C407.5,677.5 399.5,694.5 399.5,720.1 A24,24 0 0 0 447.5,720.1 C447.5,694.5 439.5,677.5 429,667 C427,674.5 426.5,685.5 428,693.5 C429.5,700.5 435,704.5 435,720.1 A11.5,11.5 0 0 1 412,720.1 C412,704.5 417.5,700.5 419,693.5 C420.5,685.5 420,674.5 418,667 Z" fill="#fff" stroke="#fff" stroke-width="3.5" stroke-linejoin="round"/><path d="M474,665 C463.5,675.5 455.5,692.5 455.5,718.1 A24,24 0 0 0 503.5,718.1 C503.5,692.5 495.5,675.5 485,665 C483,672.5 482.5,683.5 484,691.5 C485.5,698.5 491,702.5 491,718.1 A11.5,11.5 0 0 1 468,718.1 C468,702.5 473.5,698.5 475,691.5 C476.5,683.5 476,672.5 474,665 Z" fill="#fff" stroke="#fff" stroke-width="3.5" stroke-linejoin="round"/><path d="M530,661.8 C519.5,672.3 511.5,689.3 511.5,714.9 A24,24 0 0 0 559.5,714.9 C559.5,689.3 551.5,672.3 541,661.8 C539,669.3 538.5,680.3 540,688.3 C541.5,695.3 547,699.3 547,714.9 A11.5,11.5 0 0 1 524,714.9 C524,699.3 529.5,695.3 531,688.3 C532.5,680.3 532,669.3 530,661.8 Z" fill="#fff" stroke="#fff" stroke-width="3.5" stroke-linejoin="round"/><path d="M586,657.2 C575.5,667.7 567.5,684.7 567.5,710.3 A24,24 0 0 0 615.5,710.3 C615.5,684.7 607.5,667.7 597,657.2 C595,664.7 594.5,675.7 596,683.7 C597.5,690.7 603,694.7 603,710.3 A11.5,11.5 0 0 1 580,710.3 C580,694.7 585.5,690.7 587,683.7 C588.5,675.7 588,664.7 586,657.2 Z" fill="#fff" stroke="#fff" stroke-width="3.5" stroke-linejoin="round"/><path d="M642,651.4 C631.5,661.9 623.5,678.9 623.5,704.5 A24,24 0 0 0 671.5,704.5 C671.5,678.9 663.5,661.9 653,651.4 C651,658.9 650.5,669.9 652,677.9 C653.5,684.9 659,688.9 659,704.5 A11.5,11.5 0 0 1 636,704.5 C636,688.9 641.5,684.9 643,677.9 C644.5,669.9 644,658.9 642,651.4 Z" fill="#fff" stroke="#fff" stroke-width="3.5" stroke-linejoin="round"/></g><g mask="url(#rm2)"><path d="M82,651.5 C71.5,662 63.5,679 63.5,704.6 A24,24 0 0 0 111.5,704.6 C111.5,679 103.5,662 93,651.5 C91,659 90.5,670 92,678 C93.5,685 99,689 99,704.6 A11.5,11.5 0 0 1 76,704.6 C76,689 81.5,685 83,678 C84.5,670 84,659 82,651.5 Z" fill="#5669a1"/><path d="M138,657.3 C127.5,667.8 119.5,684.8 119.5,710.4 A24,24 0 0 0 167.5,710.4 C167.5,684.8 159.5,667.8 149,657.3 C147,664.8 146.5,675.8 148,683.8 C149.5,690.8 155,694.8 155,710.4 A11.5,11.5 0 0 1 132,710.4 C132,694.8 137.5,690.8 139,683.8 C140.5,675.8 140,664.8 138,657.3 Z" fill="#5669a1"/><path d="M194,661.8 C183.5,672.3 175.5,689.3 175.5,714.9 A24,24 0 0 0 223.5,714.9 C223.5,689.3 215.5,672.3 205,661.8 C203,669.3 202.5,680.3 204,688.3 C205.5,695.3 211,699.3 211,714.9 A11.5,11.5 0 0 1 188,714.9 C188,699.3 193.5,695.3 195,688.3 C196.5,680.3 196,669.3 194,661.8 Z" fill="#5669a1"/><path d="M250,665.1 C239.5,675.6 231.5,692.6 231.5,718.2 A24,24 0 0 0 279.5,718.2 C279.5,692.6 271.5,675.6 261,665.1 C259,672.6 258.5,683.6 260,691.6 C261.5,698.6 267,702.6 267,718.2 A11.5,11.5 0 0 1 244,718.2 C244,702.6 249.5,698.6 251,691.6 C252.5,683.6 252,672.6 250,665.1 Z" fill="#5669a1"/><path d="M306,667 C295.5,677.5 287.5,694.5 287.5,720.1 A24,24 0 0 0 335.5,720.1 C335.5,694.5 327.5,677.5 317,667 C315,674.5 314.5,685.5 316,693.5 C317.5,700.5 323,704.5 323,720.1 A11.5,11.5 0 0 1 300,720.1 C300,704.5 305.5,700.5 307,693.5 C308.5,685.5 308,674.5 306,667 Z" fill="#5669a1"/><path d="M362,667.6 C351.5,678.1 343.5,695.1 343.5,720.7 A24,24 0 0 0 391.5,720.7 C391.5,695.1 383.5,678.1 373,667.6 C371,675.1 370.5,686.1 372,694.1 C373.5,701.1 379,705.1 379,720.7 A11.5,11.5 0 0 1 356,720.7 C356,705.1 361.5,701.1 363,694.1 C364.5,686.1 364,675.1 362,667.6 Z" fill="#5669a1"/><path d="M418,667 C407.5,677.5 399.5,694.5 399.5,720.1 A24,24 0 0 0 447.5,720.1 C447.5,694.5 439.5,677.5 429,667 C427,674.5 426.5,685.5 428,693.5 C429.5,700.5 435,704.5 435,720.1 A11.5,11.5 0 0 1 412,720.1 C412,704.5 417.5,700.5 419,693.5 C420.5,685.5 420,674.5 418,667 Z" fill="#5669a1"/><path d="M474,665 C463.5,675.5 455.5,692.5 455.5,718.1 A24,24 0 0 0 503.5,718.1 C503.5,692.5 495.5,675.5 485,665 C483,672.5 482.5,683.5 484,691.5 C485.5,698.5 491,702.5 491,718.1 A11.5,11.5 0 0 1 468,718.1 C468,702.5 473.5,698.5 475,691.5 C476.5,683.5 476,672.5 474,665 Z" fill="#5669a1"/><path d="M530,661.8 C519.5,672.3 511.5,689.3 511.5,714.9 A24,24 0 0 0 559.5,714.9 C559.5,689.3 551.5,672.3 541,661.8 C539,669.3 538.5,680.3 540,688.3 C541.5,695.3 547,699.3 547,714.9 A11.5,11.5 0 0 1 524,714.9 C524,699.3 529.5,695.3 531,688.3 C532.5,680.3 532,669.3 530,661.8 Z" fill="#5669a1"/><path d="M586,657.2 C575.5,667.7 567.5,684.7 567.5,710.3 A24,24 0 0 0 615.5,710.3 C615.5,684.7 607.5,667.7 597,657.2 C595,664.7 594.5,675.7 596,683.7 C597.5,690.7 603,694.7 603,710.3 A11.5,11.5 0 0 1 580,710.3 C580,694.7 585.5,690.7 587,683.7 C588.5,675.7 588,664.7 586,657.2 Z" fill="#5669a1"/><path d="M642,651.4 C631.5,661.9 623.5,678.9 623.5,704.5 A24,24 0 0 0 671.5,704.5 C671.5,678.9 663.5,661.9 653,651.4 C651,658.9 650.5,669.9 652,677.9 C653.5,684.9 659,688.9 659,704.5 A11.5,11.5 0 0 1 636,704.5 C636,688.9 641.5,684.9 643,677.9 C644.5,669.9 644,658.9 642,651.4 Z" fill="#5669a1"/><g fill="none" filter="url(#bl3)"><path d="M83.5,652 C79.5,663 69.8,679 69.8,704.6 A17.75,17.75 0 0 0 105.2,704.6 C105.2,679 95.5,663 91.5,652" stroke="#405794" stroke-width="9"/><path d="M139.5,657.8 C135.5,668.8 125.8,684.8 125.8,710.4 A17.75,17.75 0 0 0 161.2,710.4 C161.2,684.8 151.5,668.8 147.5,657.8" stroke="#405794" stroke-width="9"/><path d="M195.5,662.3 C191.5,673.3 181.8,689.3 181.8,714.9 A17.75,17.75 0 0 0 217.2,714.9 C217.2,689.3 207.5,673.3 203.5,662.3" stroke="#405794" stroke-width="9"/><path d="M251.5,665.6 C247.5,676.6 237.8,692.6 237.8,718.2 A17.75,17.75 0 0 0 273.2,718.2 C273.2,692.6 263.5,676.6 259.5,665.6" stroke="#405794" stroke-width="9"/><path d="M307.5,667.5 C303.5,678.5 293.8,694.5 293.8,720.1 A17.75,17.75 0 0 0 329.2,720.1 C329.2,694.5 319.5,678.5 315.5,667.5" stroke="#405794" stroke-width="9"/><path d="M363.5,668.1 C359.5,679.1 349.8,695.1 349.8,720.7 A17.75,17.75 0 0 0 385.2,720.7 C385.2,695.1 375.5,679.1 371.5,668.1" stroke="#405794" stroke-width="9"/><path d="M419.5,667.5 C415.5,678.5 405.8,694.5 405.8,720.1 A17.75,17.75 0 0 0 441.2,720.1 C441.2,694.5 431.5,678.5 427.5,667.5" stroke="#405794" stroke-width="9"/><path d="M475.5,665.5 C471.5,676.5 461.8,692.5 461.8,718.1 A17.75,17.75 0 0 0 497.2,718.1 C497.2,692.5 487.5,676.5 483.5,665.5" stroke="#405794" stroke-width="9"/><path d="M531.5,662.3 C527.5,673.3 517.8,689.3 517.8,714.9 A17.75,17.75 0 0 0 553.2,714.9 C553.2,689.3 543.5,673.3 539.5,662.3" stroke="#405794" stroke-width="9"/><path d="M587.5,657.7 C583.5,668.7 573.8,684.7 573.8,710.3 A17.75,17.75 0 0 0 609.2,710.3 C609.2,684.7 599.5,668.7 595.5,657.7" stroke="#405794" stroke-width="9"/><path d="M643.5,651.9 C639.5,662.9 629.8,678.9 629.8,704.5 A17.75,17.75 0 0 0 665.2,704.5 C665.2,678.9 655.5,662.9 651.5,651.9" stroke="#405794" stroke-width="9"/><path d="M83.5,652 C79.5,663 69.8,679 69.8,704.6 A17.75,17.75 0 0 0 105.2,704.6 C105.2,679 95.5,663 91.5,652" stroke="#394f8d" stroke-width="4"/><path d="M139.5,657.8 C135.5,668.8 125.8,684.8 125.8,710.4 A17.75,17.75 0 0 0 161.2,710.4 C161.2,684.8 151.5,668.8 147.5,657.8" stroke="#394f8d" stroke-width="4"/><path d="M195.5,662.3 C191.5,673.3 181.8,689.3 181.8,714.9 A17.75,17.75 0 0 0 217.2,714.9 C217.2,689.3 207.5,673.3 203.5,662.3" stroke="#394f8d" stroke-width="4"/><path d="M251.5,665.6 C247.5,676.6 237.8,692.6 237.8,718.2 A17.75,17.75 0 0 0 273.2,718.2 C273.2,692.6 263.5,676.6 259.5,665.6" stroke="#394f8d" stroke-width="4"/><path d="M307.5,667.5 C303.5,678.5 293.8,694.5 293.8,720.1 A17.75,17.75 0 0 0 329.2,720.1 C329.2,694.5 319.5,678.5 315.5,667.5" stroke="#394f8d" stroke-width="4"/><path d="M363.5,668.1 C359.5,679.1 349.8,695.1 349.8,720.7 A17.75,17.75 0 0 0 385.2,720.7 C385.2,695.1 375.5,679.1 371.5,668.1" stroke="#394f8d" stroke-width="4"/><path d="M419.5,667.5 C415.5,678.5 405.8,694.5 405.8,720.1 A17.75,17.75 0 0 0 441.2,720.1 C441.2,694.5 431.5,678.5 427.5,667.5" stroke="#394f8d" stroke-width="4"/><path d="M475.5,665.5 C471.5,676.5 461.8,692.5 461.8,718.1 A17.75,17.75 0 0 0 497.2,718.1 C497.2,692.5 487.5,676.5 483.5,665.5" stroke="#394f8d" stroke-width="4"/><path d="M531.5,662.3 C527.5,673.3 517.8,689.3 517.8,714.9 A17.75,17.75 0 0 0 553.2,714.9 C553.2,689.3 543.5,673.3 539.5,662.3" stroke="#394f8d" stroke-width="4"/><path d="M587.5,657.7 C583.5,668.7 573.8,684.7 573.8,710.3 A17.75,17.75 0 0 0 609.2,710.3 C609.2,684.7 599.5,668.7 595.5,657.7" stroke="#394f8d" stroke-width="4"/><path d="M643.5,651.9 C639.5,662.9 629.8,678.9 629.8,704.5 A17.75,17.75 0 0 0 665.2,704.5 C665.2,678.9 655.5,662.9 651.5,651.9" stroke="#394f8d" stroke-width="4"/></g></g><path d="M683,424 L705,418 L702,422.7 L724,422.7 L724,425.3 L702,425.3 L705,430 Z" fill="#e01b22"/><path d="M683,500 L705,494 L702,498.7 L724,498.7 L724,501.3 L702,501.3 L705,506 Z" fill="#e01b22"/><path d="M683,632 L705,626 L702,630.7 L724,630.7 L724,633.3 L702,633.3 L705,638 Z" fill="#e01b22"/><path d="M683,714.5 L705,708.5 L702,713.2 L724,713.2 L724,715.8 L702,715.8 L705,720.5 Z" fill="#e01b22"/><path d="M795.4,350 L808.4,363 L795.4,376 L782.4,363 Z" fill="#2c529c"/><path d="M790.4,557 L803.4,570 L790.4,583 L777.4,570 Z" fill="#2c529c"/></svg>
<div class="t title"><span>二</span><span>重</span><span>構</span><span>造</span><span>の</span><span>断</span><span>面</span><span>図</span></div>
<div class="t skin"><span>肌</span><span>側</span></div>
<div class="t h" style="left:827.5px;top:342px"><span>一</span><span>層</span><span>目</span><span class="p" style="width:19px;text-align:left;padding-left:4px;box-sizing:border-box">(</span><span>肌</span><span>面</span><span>生</span><span>地</span><span class="p" style="width:19px;text-align:left;padding-left:4px;box-sizing:border-box">)</span></div>
<div class="t b" style="left:740px;top:394px"><span>【</span><span>肌</span><span>側</span><span>】</span></div>
<div class="t b" style="left:740px;top:428px"><span>吸</span><span>水</span><span>・</span><span>拡</span><span>散</span><span>・</span><span>速</span><span>乾</span><span>加</span><span>工</span></div>
<div class="t b" style="left:740px;top:477px"><span>【</span><span>外</span><span>側</span><span>】</span></div>
<div class="t b" style="left:740px;top:512px"><span>は</span><span>っ</span><span>水</span><span>糸</span></div>
<div class="t h h2" style="left:823px;top:549px"><span>二</span><span>層</span><span>目</span><span class="p" style="width:20px;text-align:left;padding-left:5px;box-sizing:border-box">(</span><span>本</span><span>体</span><span>生</span><span>地</span><span class="p" style="width:20px;text-align:left;padding-left:5px;box-sizing:border-box">)</span></div>
<div class="t b" style="left:740px;top:604px"><span>【</span><span>肌</span><span>側</span><span>】</span></div>
<div class="t b" style="left:740px;top:638px"><span>消</span><span>臭</span><span>・</span><span>防</span><span>臭</span><span>・</span><span>抗</span><span>菌</span><span>加</span><span>工</span><span class="pl">＋</span><span>吸</span><span>水</span><span>加</span><span>工</span></div>
<div class="t b" style="left:740px;top:687px"><span>【</span><span>外</span><span>側</span><span>】</span></div>
<div class="t b2" style="left:740px;top:720px"><span>消</span><span>臭</span><span>・</span><span>防</span><span>臭</span><span>・</span><span>抗</span><span>菌</span><span>繊</span><span>維</span><span class="pl">＋</span><span>は</span><span>っ</span><span>水</span><span>加</span><span>工</span></div>
</body></html>
